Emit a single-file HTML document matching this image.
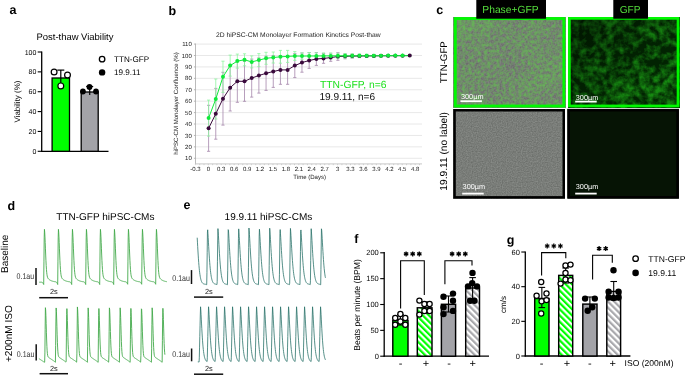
<!DOCTYPE html>
<html><head><meta charset="utf-8"><style>
html,body{margin:0;padding:0;background:#fff;width:685px;height:375px;overflow:hidden;}
svg{display:block;font-family:"Liberation Sans",sans-serif;text-rendering:geometricPrecision;-webkit-font-smoothing:antialiased;will-change:transform;}
</style></head><body>
<svg width="685" height="375" viewBox="0 0 685 375" font-family="Liberation Sans, sans-serif">
<defs>
<pattern id="hg" patternUnits="userSpaceOnUse" width="4.4" height="4.4" patternTransform="rotate(-45)">
<rect width="4.4" height="4.4" fill="#fff"/><rect width="2.2" height="4.4" fill="#00ff00"/></pattern>
<pattern id="hk" patternUnits="userSpaceOnUse" width="4.4" height="4.4" patternTransform="rotate(-45)">
<rect width="4.4" height="4.4" fill="#fff"/><rect width="2.2" height="4.4" fill="#a8a8ac"/></pattern>
<filter id="nTL" x="0" y="0" width="1" height="1" color-interpolation-filters="sRGB">
<feTurbulence type="fractalNoise" baseFrequency="0.32" numOctaves="3" seed="4" result="t1"/>
<feColorMatrix in="t1" type="matrix" values="1 0 0 0 0  1 0 0 0 0  1 0 0 0 0  0 0 0 0 1" result="a1"/>
<feTurbulence type="fractalNoise" baseFrequency="0.025" numOctaves="2" seed="11" result="t2"/>
<feColorMatrix in="t2" type="matrix" values="1 0 0 0 0  1 0 0 0 0  1 0 0 0 0  0 0 0 0 1" result="a2"/>
<feComposite in="a1" in2="a2" operator="arithmetic" k1="0" k2="0.7" k3="0.3" k4="0" result="mix"/>
<feColorMatrix in="mix" type="matrix" values="0 0 0 0 0.40  0 0 0 0 0.70  0 0 0 0 0.34  2.6 0 0 0 -0.9" result="g"/>
<feTurbulence type="fractalNoise" baseFrequency="0.6" numOctaves="1" seed="9" result="f"/>
<feColorMatrix in="f" type="matrix" values="1 0 0 0 0  1 0 0 0 0  1 0 0 0 0  0 0 0 0 0.16" result="fg"/>
<feFlood flood-color="#727572" result="base"/>
<feComposite in="fg" in2="base" operator="over" result="b2"/>
<feComposite in="g" in2="b2" operator="over" result="c"/>
<feGaussianBlur in="c" stdDeviation="0.4"/>
</filter>
<filter id="nTR" x="0" y="0" width="1" height="1" color-interpolation-filters="sRGB">
<feTurbulence type="fractalNoise" baseFrequency="0.15" numOctaves="3" seed="5" result="t1"/>
<feColorMatrix in="t1" type="matrix" values="1 0 0 0 0  1 0 0 0 0  1 0 0 0 0  0 0 0 0 1" result="a1"/>
<feTurbulence type="fractalNoise" baseFrequency="0.03" numOctaves="2" seed="7" result="t2"/>
<feColorMatrix in="t2" type="matrix" values="1 0 0 0 0  1 0 0 0 0  1 0 0 0 0  0 0 0 0 1" result="a2"/>
<feComposite in="a1" in2="a2" operator="arithmetic" k1="0" k2="0.65" k3="0.35" k4="0" result="mix"/>
<feColorMatrix in="mix" type="matrix" values="0 0 0 0 0.09  0 0 0 0 0.56  0 0 0 0 0.07  3.0 0 0 0 -1.15" result="g"/>
<feFlood flood-color="#022602" result="base"/>
<feComposite in="g" in2="base" operator="over" result="c"/>
<feGaussianBlur in="c" stdDeviation="0.4"/>
</filter>
<linearGradient id="trg" x1="0" y1="0" x2="1" y2="1">
<stop offset="0" stop-color="#000" stop-opacity="0.45"/>
<stop offset="0.55" stop-color="#000" stop-opacity="0.1"/>
<stop offset="1" stop-color="#000" stop-opacity="0"/>
</linearGradient>
<filter id="nBL" x="0" y="0" width="1" height="1" color-interpolation-filters="sRGB">
<feTurbulence type="fractalNoise" baseFrequency="0.8" numOctaves="1" seed="2" result="f"/>
<feColorMatrix in="f" type="matrix" values="1 0 0 0 0  1 0 0 0 0  1 0 0 0 0  0 0 0 0 0.2" result="fg"/>
<feFlood flood-color="#787c77" result="base"/>
<feComposite in="fg" in2="base" operator="over"/>
</filter>
</defs>
<rect x="0.00" y="0.00" width="685.00" height="375.00" fill="#fff" stroke="none" stroke-width="0" />
<text x="9.60" y="14.40" font-size="12.5" fill="#000" text-anchor="start" font-weight="bold" >a</text>
<text x="168.60" y="14.70" font-size="12.5" fill="#000" text-anchor="start" font-weight="bold" >b</text>
<text x="436.30" y="14.40" font-size="12.5" fill="#000" text-anchor="start" font-weight="bold" >c</text>
<text x="7.60" y="209.90" font-size="12.5" fill="#000" text-anchor="start" font-weight="bold" >d</text>
<text x="183.40" y="209.40" font-size="12.5" fill="#000" text-anchor="start" font-weight="bold" >e</text>
<text x="354.20" y="243.40" font-size="12.5" fill="#000" text-anchor="start" font-weight="bold" >f</text>
<text x="506.80" y="243.50" font-size="12.5" fill="#000" text-anchor="start" font-weight="bold" >g</text>
<text x="36.50" y="39.90" font-size="9.45" fill="#000" text-anchor="start" >Post-thaw Viability</text>
<line x1="37.70" y1="151.30" x2="41.70" y2="151.30" stroke="#000" stroke-width="1.1" />
<text x="36.40" y="153.80" font-size="7.0" fill="#000" text-anchor="end" >0</text>
<line x1="37.70" y1="131.44" x2="41.70" y2="131.44" stroke="#000" stroke-width="1.1" />
<text x="36.40" y="133.94" font-size="7.0" fill="#000" text-anchor="end" >20</text>
<line x1="37.70" y1="111.58" x2="41.70" y2="111.58" stroke="#000" stroke-width="1.1" />
<text x="36.40" y="114.08" font-size="7.0" fill="#000" text-anchor="end" >40</text>
<line x1="37.70" y1="91.72" x2="41.70" y2="91.72" stroke="#000" stroke-width="1.1" />
<text x="36.40" y="94.22" font-size="7.0" fill="#000" text-anchor="end" >60</text>
<line x1="37.70" y1="71.86" x2="41.70" y2="71.86" stroke="#000" stroke-width="1.1" />
<text x="36.40" y="74.36" font-size="7.0" fill="#000" text-anchor="end" >80</text>
<line x1="37.70" y1="52.00" x2="41.70" y2="52.00" stroke="#000" stroke-width="1.1" />
<text x="36.40" y="54.50" font-size="7.0" fill="#000" text-anchor="end" >100</text>
<line x1="41.70" y1="51.50" x2="41.70" y2="151.90" stroke="#000" stroke-width="1.3" />
<line x1="41.10" y1="151.30" x2="108.50" y2="151.30" stroke="#000" stroke-width="1.3" />
<rect x="52.10" y="78.00" width="17.40" height="73.30" fill="#00ff00" stroke="#000" stroke-width="1.3" />
<rect x="81.20" y="92.00" width="17.00" height="59.30" fill="#a3a3a8" stroke="#000" stroke-width="1.3" />
<line x1="60.80" y1="70.10" x2="60.80" y2="85.90" stroke="#000" stroke-width="1.2" />
<line x1="57.30" y1="70.10" x2="64.30" y2="70.10" stroke="#000" stroke-width="1.2" />
<line x1="89.70" y1="86.50" x2="89.70" y2="95.00" stroke="#000" stroke-width="1.2" />
<line x1="86.20" y1="86.50" x2="93.20" y2="86.50" stroke="#000" stroke-width="1.2" />
<circle cx="54.10" cy="72.00" r="2.9" fill="#fff" stroke="#000" stroke-width="1.2"/>
<circle cx="60.80" cy="85.90" r="2.9" fill="#fff" stroke="#000" stroke-width="1.2"/>
<circle cx="67.50" cy="75.00" r="2.9" fill="#fff" stroke="#000" stroke-width="1.2"/>
<circle cx="82.90" cy="91.50" r="2.9" fill="#000" stroke="none" stroke-width="0"/>
<circle cx="89.50" cy="87.00" r="2.9" fill="#000" stroke="none" stroke-width="0"/>
<circle cx="96.00" cy="91.50" r="2.9" fill="#000" stroke="none" stroke-width="0"/>
<circle cx="102.10" cy="59.20" r="2.75" fill="#fff" stroke="#000" stroke-width="1.3"/>
<text x="114.00" y="62.10" font-size="8.1" fill="#000" text-anchor="start" >TTN-GFP</text>
<circle cx="102.10" cy="72.40" r="3.2" fill="#000" stroke="none" stroke-width="0"/>
<text x="114.00" y="75.30" font-size="8.1" fill="#000" text-anchor="start" >19.9.11</text>
<text transform="translate(20.20,101.50) rotate(-90)" x="0" y="0" font-size="8" fill="#000" text-anchor="middle" >Viability (%)</text>
<text x="216.00" y="36.80" font-size="6.73" fill="#222" text-anchor="start" >2D hiPSC-CM Monolayer Formation Kinetics Post-thaw</text>
<line x1="195.50" y1="158.28" x2="422.00" y2="158.28" stroke="#e2e2e2" stroke-width="0.8" />
<line x1="193.90" y1="158.28" x2="195.50" y2="158.28" stroke="#999" stroke-width="0.7" />
<text x="191.80" y="160.38" font-size="6.0" fill="#222" text-anchor="end" >10</text>
<line x1="195.50" y1="146.86" x2="422.00" y2="146.86" stroke="#e2e2e2" stroke-width="0.8" />
<line x1="193.90" y1="146.86" x2="195.50" y2="146.86" stroke="#999" stroke-width="0.7" />
<text x="191.80" y="148.96" font-size="6.0" fill="#222" text-anchor="end" >20</text>
<line x1="195.50" y1="135.44" x2="422.00" y2="135.44" stroke="#e2e2e2" stroke-width="0.8" />
<line x1="193.90" y1="135.44" x2="195.50" y2="135.44" stroke="#999" stroke-width="0.7" />
<text x="191.80" y="137.54" font-size="6.0" fill="#222" text-anchor="end" >30</text>
<line x1="195.50" y1="124.02" x2="422.00" y2="124.02" stroke="#e2e2e2" stroke-width="0.8" />
<line x1="193.90" y1="124.02" x2="195.50" y2="124.02" stroke="#999" stroke-width="0.7" />
<text x="191.80" y="126.12" font-size="6.0" fill="#222" text-anchor="end" >40</text>
<line x1="195.50" y1="112.60" x2="422.00" y2="112.60" stroke="#e2e2e2" stroke-width="0.8" />
<line x1="193.90" y1="112.60" x2="195.50" y2="112.60" stroke="#999" stroke-width="0.7" />
<text x="191.80" y="114.70" font-size="6.0" fill="#222" text-anchor="end" >50</text>
<line x1="195.50" y1="101.18" x2="422.00" y2="101.18" stroke="#e2e2e2" stroke-width="0.8" />
<line x1="193.90" y1="101.18" x2="195.50" y2="101.18" stroke="#999" stroke-width="0.7" />
<text x="191.80" y="103.28" font-size="6.0" fill="#222" text-anchor="end" >60</text>
<line x1="195.50" y1="89.76" x2="422.00" y2="89.76" stroke="#e2e2e2" stroke-width="0.8" />
<line x1="193.90" y1="89.76" x2="195.50" y2="89.76" stroke="#999" stroke-width="0.7" />
<text x="191.80" y="91.86" font-size="6.0" fill="#222" text-anchor="end" >70</text>
<line x1="195.50" y1="78.34" x2="422.00" y2="78.34" stroke="#e2e2e2" stroke-width="0.8" />
<line x1="193.90" y1="78.34" x2="195.50" y2="78.34" stroke="#999" stroke-width="0.7" />
<text x="191.80" y="80.44" font-size="6.0" fill="#222" text-anchor="end" >80</text>
<line x1="195.50" y1="66.92" x2="422.00" y2="66.92" stroke="#e2e2e2" stroke-width="0.8" />
<line x1="193.90" y1="66.92" x2="195.50" y2="66.92" stroke="#999" stroke-width="0.7" />
<text x="191.80" y="69.02" font-size="6.0" fill="#222" text-anchor="end" >90</text>
<line x1="195.50" y1="55.50" x2="422.00" y2="55.50" stroke="#e2e2e2" stroke-width="0.8" />
<line x1="193.90" y1="55.50" x2="195.50" y2="55.50" stroke="#999" stroke-width="0.7" />
<text x="191.80" y="57.60" font-size="6.0" fill="#222" text-anchor="end" >100</text>
<line x1="195.50" y1="44.08" x2="422.00" y2="44.08" stroke="#e2e2e2" stroke-width="0.8" />
<line x1="193.90" y1="44.08" x2="195.50" y2="44.08" stroke="#999" stroke-width="0.7" />
<text x="191.80" y="46.18" font-size="6.0" fill="#222" text-anchor="end" >110</text>
<line x1="195.50" y1="43.58" x2="195.50" y2="163.90" stroke="#aaa" stroke-width="0.8" />
<line x1="195.50" y1="163.90" x2="422.00" y2="163.90" stroke="#bbb" stroke-width="0.8" />
<line x1="195.37" y1="163.90" x2="195.37" y2="165.20" stroke="#bbb" stroke-width="0.6" />
<line x1="199.68" y1="163.90" x2="199.68" y2="165.20" stroke="#bbb" stroke-width="0.6" />
<line x1="203.99" y1="163.90" x2="203.99" y2="165.20" stroke="#bbb" stroke-width="0.6" />
<line x1="208.30" y1="163.90" x2="208.30" y2="165.20" stroke="#bbb" stroke-width="0.6" />
<line x1="212.61" y1="163.90" x2="212.61" y2="165.20" stroke="#bbb" stroke-width="0.6" />
<line x1="216.92" y1="163.90" x2="216.92" y2="165.20" stroke="#bbb" stroke-width="0.6" />
<line x1="221.23" y1="163.90" x2="221.23" y2="165.20" stroke="#bbb" stroke-width="0.6" />
<line x1="225.54" y1="163.90" x2="225.54" y2="165.20" stroke="#bbb" stroke-width="0.6" />
<line x1="229.85" y1="163.90" x2="229.85" y2="165.20" stroke="#bbb" stroke-width="0.6" />
<line x1="234.16" y1="163.90" x2="234.16" y2="165.20" stroke="#bbb" stroke-width="0.6" />
<line x1="238.47" y1="163.90" x2="238.47" y2="165.20" stroke="#bbb" stroke-width="0.6" />
<line x1="242.78" y1="163.90" x2="242.78" y2="165.20" stroke="#bbb" stroke-width="0.6" />
<line x1="247.09" y1="163.90" x2="247.09" y2="165.20" stroke="#bbb" stroke-width="0.6" />
<line x1="251.40" y1="163.90" x2="251.40" y2="165.20" stroke="#bbb" stroke-width="0.6" />
<line x1="255.71" y1="163.90" x2="255.71" y2="165.20" stroke="#bbb" stroke-width="0.6" />
<line x1="260.02" y1="163.90" x2="260.02" y2="165.20" stroke="#bbb" stroke-width="0.6" />
<line x1="264.33" y1="163.90" x2="264.33" y2="165.20" stroke="#bbb" stroke-width="0.6" />
<line x1="268.64" y1="163.90" x2="268.64" y2="165.20" stroke="#bbb" stroke-width="0.6" />
<line x1="272.95" y1="163.90" x2="272.95" y2="165.20" stroke="#bbb" stroke-width="0.6" />
<line x1="277.26" y1="163.90" x2="277.26" y2="165.20" stroke="#bbb" stroke-width="0.6" />
<line x1="281.57" y1="163.90" x2="281.57" y2="165.20" stroke="#bbb" stroke-width="0.6" />
<line x1="285.88" y1="163.90" x2="285.88" y2="165.20" stroke="#bbb" stroke-width="0.6" />
<line x1="290.19" y1="163.90" x2="290.19" y2="165.20" stroke="#bbb" stroke-width="0.6" />
<line x1="294.50" y1="163.90" x2="294.50" y2="165.20" stroke="#bbb" stroke-width="0.6" />
<line x1="298.81" y1="163.90" x2="298.81" y2="165.20" stroke="#bbb" stroke-width="0.6" />
<line x1="303.12" y1="163.90" x2="303.12" y2="165.20" stroke="#bbb" stroke-width="0.6" />
<line x1="307.43" y1="163.90" x2="307.43" y2="165.20" stroke="#bbb" stroke-width="0.6" />
<line x1="311.74" y1="163.90" x2="311.74" y2="165.20" stroke="#bbb" stroke-width="0.6" />
<line x1="316.05" y1="163.90" x2="316.05" y2="165.20" stroke="#bbb" stroke-width="0.6" />
<line x1="320.36" y1="163.90" x2="320.36" y2="165.20" stroke="#bbb" stroke-width="0.6" />
<line x1="324.67" y1="163.90" x2="324.67" y2="165.20" stroke="#bbb" stroke-width="0.6" />
<line x1="328.98" y1="163.90" x2="328.98" y2="165.20" stroke="#bbb" stroke-width="0.6" />
<line x1="333.29" y1="163.90" x2="333.29" y2="165.20" stroke="#bbb" stroke-width="0.6" />
<line x1="337.60" y1="163.90" x2="337.60" y2="165.20" stroke="#bbb" stroke-width="0.6" />
<line x1="341.91" y1="163.90" x2="341.91" y2="165.20" stroke="#bbb" stroke-width="0.6" />
<line x1="346.22" y1="163.90" x2="346.22" y2="165.20" stroke="#bbb" stroke-width="0.6" />
<line x1="350.53" y1="163.90" x2="350.53" y2="165.20" stroke="#bbb" stroke-width="0.6" />
<line x1="354.84" y1="163.90" x2="354.84" y2="165.20" stroke="#bbb" stroke-width="0.6" />
<line x1="359.15" y1="163.90" x2="359.15" y2="165.20" stroke="#bbb" stroke-width="0.6" />
<line x1="363.46" y1="163.90" x2="363.46" y2="165.20" stroke="#bbb" stroke-width="0.6" />
<line x1="367.77" y1="163.90" x2="367.77" y2="165.20" stroke="#bbb" stroke-width="0.6" />
<line x1="372.08" y1="163.90" x2="372.08" y2="165.20" stroke="#bbb" stroke-width="0.6" />
<line x1="376.39" y1="163.90" x2="376.39" y2="165.20" stroke="#bbb" stroke-width="0.6" />
<line x1="380.70" y1="163.90" x2="380.70" y2="165.20" stroke="#bbb" stroke-width="0.6" />
<line x1="385.01" y1="163.90" x2="385.01" y2="165.20" stroke="#bbb" stroke-width="0.6" />
<line x1="389.32" y1="163.90" x2="389.32" y2="165.20" stroke="#bbb" stroke-width="0.6" />
<line x1="393.63" y1="163.90" x2="393.63" y2="165.20" stroke="#bbb" stroke-width="0.6" />
<line x1="397.94" y1="163.90" x2="397.94" y2="165.20" stroke="#bbb" stroke-width="0.6" />
<line x1="402.25" y1="163.90" x2="402.25" y2="165.20" stroke="#bbb" stroke-width="0.6" />
<line x1="406.56" y1="163.90" x2="406.56" y2="165.20" stroke="#bbb" stroke-width="0.6" />
<line x1="410.87" y1="163.90" x2="410.87" y2="165.20" stroke="#bbb" stroke-width="0.6" />
<line x1="415.18" y1="163.90" x2="415.18" y2="165.20" stroke="#bbb" stroke-width="0.6" />
<line x1="419.49" y1="163.90" x2="419.49" y2="165.20" stroke="#bbb" stroke-width="0.6" />
<text x="195.37" y="171.40" font-size="6.0" fill="#222" text-anchor="middle" >-0.3</text>
<text x="208.30" y="171.40" font-size="6.0" fill="#222" text-anchor="middle" >0</text>
<text x="221.23" y="171.40" font-size="6.0" fill="#222" text-anchor="middle" >0.3</text>
<text x="234.16" y="171.40" font-size="6.0" fill="#222" text-anchor="middle" >0.6</text>
<text x="247.09" y="171.40" font-size="6.0" fill="#222" text-anchor="middle" >0.9</text>
<text x="260.02" y="171.40" font-size="6.0" fill="#222" text-anchor="middle" >1.2</text>
<text x="272.95" y="171.40" font-size="6.0" fill="#222" text-anchor="middle" >1.5</text>
<text x="285.88" y="171.40" font-size="6.0" fill="#222" text-anchor="middle" >1.8</text>
<text x="298.81" y="171.40" font-size="6.0" fill="#222" text-anchor="middle" >2.1</text>
<text x="311.74" y="171.40" font-size="6.0" fill="#222" text-anchor="middle" >2.4</text>
<text x="324.67" y="171.40" font-size="6.0" fill="#222" text-anchor="middle" >2.7</text>
<text x="337.60" y="171.40" font-size="6.0" fill="#222" text-anchor="middle" >3</text>
<text x="350.53" y="171.40" font-size="6.0" fill="#222" text-anchor="middle" >3.3</text>
<text x="363.46" y="171.40" font-size="6.0" fill="#222" text-anchor="middle" >3.6</text>
<text x="376.39" y="171.40" font-size="6.0" fill="#222" text-anchor="middle" >3.9</text>
<text x="389.32" y="171.40" font-size="6.0" fill="#222" text-anchor="middle" >4.2</text>
<text x="402.25" y="171.40" font-size="6.0" fill="#222" text-anchor="middle" >4.5</text>
<text x="415.18" y="171.40" font-size="6.0" fill="#222" text-anchor="middle" >4.8</text>
<text x="309.70" y="179.30" font-size="6.05" fill="#222" text-anchor="middle" >Time (Days)</text>
<text transform="translate(178.20,103.50) rotate(-90)" x="0" y="0" font-size="6.1" fill="#222" text-anchor="middle" >hiPSC-CM Monolayer Confluence (%)</text>
<line x1="208.60" y1="105.30" x2="208.60" y2="151.30" stroke="#a585ab" stroke-width="0.8" />
<line x1="207.00" y1="105.30" x2="210.20" y2="105.30" stroke="#a585ab" stroke-width="0.8" />
<line x1="207.00" y1="151.30" x2="210.20" y2="151.30" stroke="#a585ab" stroke-width="0.8" />
<line x1="215.78" y1="88.40" x2="215.78" y2="139.20" stroke="#a585ab" stroke-width="0.8" />
<line x1="214.18" y1="88.40" x2="217.38" y2="88.40" stroke="#a585ab" stroke-width="0.8" />
<line x1="214.18" y1="139.20" x2="217.38" y2="139.20" stroke="#a585ab" stroke-width="0.8" />
<line x1="222.97" y1="72.30" x2="222.97" y2="125.10" stroke="#a585ab" stroke-width="0.8" />
<line x1="221.37" y1="72.30" x2="224.57" y2="72.30" stroke="#a585ab" stroke-width="0.8" />
<line x1="221.37" y1="125.10" x2="224.57" y2="125.10" stroke="#a585ab" stroke-width="0.8" />
<line x1="230.15" y1="64.40" x2="230.15" y2="111.00" stroke="#a585ab" stroke-width="0.8" />
<line x1="228.55" y1="64.40" x2="231.75" y2="64.40" stroke="#a585ab" stroke-width="0.8" />
<line x1="228.55" y1="111.00" x2="231.75" y2="111.00" stroke="#a585ab" stroke-width="0.8" />
<line x1="237.33" y1="60.30" x2="237.33" y2="102.30" stroke="#a585ab" stroke-width="0.8" />
<line x1="235.73" y1="60.30" x2="238.93" y2="60.30" stroke="#a585ab" stroke-width="0.8" />
<line x1="235.73" y1="102.30" x2="238.93" y2="102.30" stroke="#a585ab" stroke-width="0.8" />
<line x1="244.51" y1="61.30" x2="244.51" y2="101.30" stroke="#a585ab" stroke-width="0.8" />
<line x1="242.91" y1="61.30" x2="246.11" y2="61.30" stroke="#a585ab" stroke-width="0.8" />
<line x1="242.91" y1="101.30" x2="246.11" y2="101.30" stroke="#a585ab" stroke-width="0.8" />
<line x1="251.70" y1="59.10" x2="251.70" y2="97.10" stroke="#a585ab" stroke-width="0.8" />
<line x1="250.10" y1="59.10" x2="253.30" y2="59.10" stroke="#a585ab" stroke-width="0.8" />
<line x1="250.10" y1="97.10" x2="253.30" y2="97.10" stroke="#a585ab" stroke-width="0.8" />
<line x1="258.88" y1="57.90" x2="258.88" y2="93.10" stroke="#a585ab" stroke-width="0.8" />
<line x1="257.28" y1="57.90" x2="260.48" y2="57.90" stroke="#a585ab" stroke-width="0.8" />
<line x1="257.28" y1="93.10" x2="260.48" y2="93.10" stroke="#a585ab" stroke-width="0.8" />
<line x1="266.06" y1="56.20" x2="266.06" y2="90.40" stroke="#a585ab" stroke-width="0.8" />
<line x1="264.46" y1="56.20" x2="267.66" y2="56.20" stroke="#a585ab" stroke-width="0.8" />
<line x1="264.46" y1="90.40" x2="267.66" y2="90.40" stroke="#a585ab" stroke-width="0.8" />
<line x1="273.25" y1="55.60" x2="273.25" y2="87.40" stroke="#a585ab" stroke-width="0.8" />
<line x1="271.65" y1="55.60" x2="274.85" y2="55.60" stroke="#a585ab" stroke-width="0.8" />
<line x1="271.65" y1="87.40" x2="274.85" y2="87.40" stroke="#a585ab" stroke-width="0.8" />
<line x1="280.43" y1="55.50" x2="280.43" y2="84.30" stroke="#a585ab" stroke-width="0.8" />
<line x1="278.83" y1="55.50" x2="282.03" y2="55.50" stroke="#a585ab" stroke-width="0.8" />
<line x1="278.83" y1="84.30" x2="282.03" y2="84.30" stroke="#a585ab" stroke-width="0.8" />
<line x1="287.61" y1="55.50" x2="287.61" y2="84.30" stroke="#a585ab" stroke-width="0.8" />
<line x1="286.01" y1="55.50" x2="289.21" y2="55.50" stroke="#a585ab" stroke-width="0.8" />
<line x1="286.01" y1="84.30" x2="289.21" y2="84.30" stroke="#a585ab" stroke-width="0.8" />
<line x1="294.80" y1="53.60" x2="294.80" y2="77.60" stroke="#a585ab" stroke-width="0.8" />
<line x1="293.20" y1="53.60" x2="296.40" y2="53.60" stroke="#a585ab" stroke-width="0.8" />
<line x1="293.20" y1="77.60" x2="296.40" y2="77.60" stroke="#a585ab" stroke-width="0.8" />
<line x1="301.98" y1="53.00" x2="301.98" y2="72.20" stroke="#a585ab" stroke-width="0.8" />
<line x1="300.38" y1="53.00" x2="303.58" y2="53.00" stroke="#a585ab" stroke-width="0.8" />
<line x1="300.38" y1="72.20" x2="303.58" y2="72.20" stroke="#a585ab" stroke-width="0.8" />
<line x1="309.16" y1="52.60" x2="309.16" y2="68.40" stroke="#a585ab" stroke-width="0.8" />
<line x1="307.56" y1="52.60" x2="310.76" y2="52.60" stroke="#a585ab" stroke-width="0.8" />
<line x1="307.56" y1="68.40" x2="310.76" y2="68.40" stroke="#a585ab" stroke-width="0.8" />
<line x1="316.35" y1="52.60" x2="316.35" y2="65.40" stroke="#a585ab" stroke-width="0.8" />
<line x1="314.75" y1="52.60" x2="317.95" y2="52.60" stroke="#a585ab" stroke-width="0.8" />
<line x1="314.75" y1="65.40" x2="317.95" y2="65.40" stroke="#a585ab" stroke-width="0.8" />
<line x1="323.53" y1="53.50" x2="323.53" y2="63.30" stroke="#a585ab" stroke-width="0.8" />
<line x1="321.93" y1="53.50" x2="325.13" y2="53.50" stroke="#a585ab" stroke-width="0.8" />
<line x1="321.93" y1="63.30" x2="325.13" y2="63.30" stroke="#a585ab" stroke-width="0.8" />
<line x1="330.71" y1="53.90" x2="330.71" y2="61.30" stroke="#a585ab" stroke-width="0.8" />
<line x1="329.11" y1="53.90" x2="332.31" y2="53.90" stroke="#a585ab" stroke-width="0.8" />
<line x1="329.11" y1="61.30" x2="332.31" y2="61.30" stroke="#a585ab" stroke-width="0.8" />
<line x1="337.89" y1="52.70" x2="337.89" y2="60.30" stroke="#a585ab" stroke-width="0.8" />
<line x1="336.29" y1="52.70" x2="339.49" y2="52.70" stroke="#a585ab" stroke-width="0.8" />
<line x1="336.29" y1="60.30" x2="339.49" y2="60.30" stroke="#a585ab" stroke-width="0.8" />
<line x1="345.08" y1="53.80" x2="345.08" y2="58.80" stroke="#a585ab" stroke-width="0.8" />
<line x1="343.48" y1="53.80" x2="346.68" y2="53.80" stroke="#a585ab" stroke-width="0.8" />
<line x1="343.48" y1="58.80" x2="346.68" y2="58.80" stroke="#a585ab" stroke-width="0.8" />
<line x1="352.26" y1="54.10" x2="352.26" y2="58.10" stroke="#a585ab" stroke-width="0.8" />
<line x1="350.66" y1="54.10" x2="353.86" y2="54.10" stroke="#a585ab" stroke-width="0.8" />
<line x1="350.66" y1="58.10" x2="353.86" y2="58.10" stroke="#a585ab" stroke-width="0.8" />
<line x1="359.44" y1="54.40" x2="359.44" y2="57.60" stroke="#a585ab" stroke-width="0.8" />
<line x1="357.84" y1="54.40" x2="361.04" y2="54.40" stroke="#a585ab" stroke-width="0.8" />
<line x1="357.84" y1="57.60" x2="361.04" y2="57.60" stroke="#a585ab" stroke-width="0.8" />
<line x1="366.63" y1="54.50" x2="366.63" y2="57.30" stroke="#a585ab" stroke-width="0.8" />
<line x1="365.03" y1="54.50" x2="368.23" y2="54.50" stroke="#a585ab" stroke-width="0.8" />
<line x1="365.03" y1="57.30" x2="368.23" y2="57.30" stroke="#a585ab" stroke-width="0.8" />
<line x1="373.81" y1="54.70" x2="373.81" y2="57.10" stroke="#a585ab" stroke-width="0.8" />
<line x1="372.21" y1="54.70" x2="375.41" y2="54.70" stroke="#a585ab" stroke-width="0.8" />
<line x1="372.21" y1="57.10" x2="375.41" y2="57.10" stroke="#a585ab" stroke-width="0.8" />
<line x1="380.99" y1="54.80" x2="380.99" y2="56.80" stroke="#a585ab" stroke-width="0.8" />
<line x1="379.39" y1="54.80" x2="382.59" y2="54.80" stroke="#a585ab" stroke-width="0.8" />
<line x1="379.39" y1="56.80" x2="382.59" y2="56.80" stroke="#a585ab" stroke-width="0.8" />
<line x1="388.17" y1="54.80" x2="388.17" y2="56.80" stroke="#a585ab" stroke-width="0.8" />
<line x1="386.57" y1="54.80" x2="389.77" y2="54.80" stroke="#a585ab" stroke-width="0.8" />
<line x1="386.57" y1="56.80" x2="389.77" y2="56.80" stroke="#a585ab" stroke-width="0.8" />
<line x1="395.36" y1="54.80" x2="395.36" y2="56.60" stroke="#a585ab" stroke-width="0.8" />
<line x1="393.76" y1="54.80" x2="396.96" y2="54.80" stroke="#a585ab" stroke-width="0.8" />
<line x1="393.76" y1="56.60" x2="396.96" y2="56.60" stroke="#a585ab" stroke-width="0.8" />
<line x1="402.54" y1="54.90" x2="402.54" y2="56.50" stroke="#a585ab" stroke-width="0.8" />
<line x1="400.94" y1="54.90" x2="404.14" y2="54.90" stroke="#a585ab" stroke-width="0.8" />
<line x1="400.94" y1="56.50" x2="404.14" y2="56.50" stroke="#a585ab" stroke-width="0.8" />
<line x1="409.72" y1="54.80" x2="409.72" y2="56.40" stroke="#a585ab" stroke-width="0.8" />
<line x1="408.12" y1="54.80" x2="411.32" y2="54.80" stroke="#a585ab" stroke-width="0.8" />
<line x1="408.12" y1="56.40" x2="411.32" y2="56.40" stroke="#a585ab" stroke-width="0.8" />
<line x1="208.60" y1="100.10" x2="208.60" y2="136.10" stroke="#8ef5a0" stroke-width="0.8" />
<line x1="207.00" y1="100.10" x2="210.20" y2="100.10" stroke="#8ef5a0" stroke-width="0.8" />
<line x1="207.00" y1="136.10" x2="210.20" y2="136.10" stroke="#8ef5a0" stroke-width="0.8" />
<line x1="215.78" y1="79.00" x2="215.78" y2="119.00" stroke="#8ef5a0" stroke-width="0.8" />
<line x1="214.18" y1="79.00" x2="217.38" y2="79.00" stroke="#8ef5a0" stroke-width="0.8" />
<line x1="214.18" y1="119.00" x2="217.38" y2="119.00" stroke="#8ef5a0" stroke-width="0.8" />
<line x1="222.97" y1="61.20" x2="222.97" y2="92.40" stroke="#8ef5a0" stroke-width="0.8" />
<line x1="221.37" y1="61.20" x2="224.57" y2="61.20" stroke="#8ef5a0" stroke-width="0.8" />
<line x1="221.37" y1="92.40" x2="224.57" y2="92.40" stroke="#8ef5a0" stroke-width="0.8" />
<line x1="230.15" y1="55.10" x2="230.15" y2="76.10" stroke="#8ef5a0" stroke-width="0.8" />
<line x1="228.55" y1="55.10" x2="231.75" y2="55.10" stroke="#8ef5a0" stroke-width="0.8" />
<line x1="228.55" y1="76.10" x2="231.75" y2="76.10" stroke="#8ef5a0" stroke-width="0.8" />
<line x1="237.33" y1="54.10" x2="237.33" y2="68.10" stroke="#8ef5a0" stroke-width="0.8" />
<line x1="235.73" y1="54.10" x2="238.93" y2="54.10" stroke="#8ef5a0" stroke-width="0.8" />
<line x1="235.73" y1="68.10" x2="238.93" y2="68.10" stroke="#8ef5a0" stroke-width="0.8" />
<line x1="244.51" y1="53.80" x2="244.51" y2="65.80" stroke="#8ef5a0" stroke-width="0.8" />
<line x1="242.91" y1="53.80" x2="246.11" y2="53.80" stroke="#8ef5a0" stroke-width="0.8" />
<line x1="242.91" y1="65.80" x2="246.11" y2="65.80" stroke="#8ef5a0" stroke-width="0.8" />
<line x1="251.70" y1="55.90" x2="251.70" y2="67.90" stroke="#8ef5a0" stroke-width="0.8" />
<line x1="250.10" y1="55.90" x2="253.30" y2="55.90" stroke="#8ef5a0" stroke-width="0.8" />
<line x1="250.10" y1="67.90" x2="253.30" y2="67.90" stroke="#8ef5a0" stroke-width="0.8" />
<line x1="258.88" y1="53.60" x2="258.88" y2="66.60" stroke="#8ef5a0" stroke-width="0.8" />
<line x1="257.28" y1="53.60" x2="260.48" y2="53.60" stroke="#8ef5a0" stroke-width="0.8" />
<line x1="257.28" y1="66.60" x2="260.48" y2="66.60" stroke="#8ef5a0" stroke-width="0.8" />
<line x1="266.06" y1="52.30" x2="266.06" y2="64.30" stroke="#8ef5a0" stroke-width="0.8" />
<line x1="264.46" y1="52.30" x2="267.66" y2="52.30" stroke="#8ef5a0" stroke-width="0.8" />
<line x1="264.46" y1="64.30" x2="267.66" y2="64.30" stroke="#8ef5a0" stroke-width="0.8" />
<line x1="273.25" y1="52.00" x2="273.25" y2="63.00" stroke="#8ef5a0" stroke-width="0.8" />
<line x1="271.65" y1="52.00" x2="274.85" y2="52.00" stroke="#8ef5a0" stroke-width="0.8" />
<line x1="271.65" y1="63.00" x2="274.85" y2="63.00" stroke="#8ef5a0" stroke-width="0.8" />
<line x1="280.43" y1="50.40" x2="280.43" y2="63.20" stroke="#8ef5a0" stroke-width="0.8" />
<line x1="278.83" y1="50.40" x2="282.03" y2="50.40" stroke="#8ef5a0" stroke-width="0.8" />
<line x1="278.83" y1="63.20" x2="282.03" y2="63.20" stroke="#8ef5a0" stroke-width="0.8" />
<line x1="287.61" y1="50.40" x2="287.61" y2="62.40" stroke="#8ef5a0" stroke-width="0.8" />
<line x1="286.01" y1="50.40" x2="289.21" y2="50.40" stroke="#8ef5a0" stroke-width="0.8" />
<line x1="286.01" y1="62.40" x2="289.21" y2="62.40" stroke="#8ef5a0" stroke-width="0.8" />
<line x1="294.80" y1="51.60" x2="294.80" y2="60.40" stroke="#8ef5a0" stroke-width="0.8" />
<line x1="293.20" y1="51.60" x2="296.40" y2="51.60" stroke="#8ef5a0" stroke-width="0.8" />
<line x1="293.20" y1="60.40" x2="296.40" y2="60.40" stroke="#8ef5a0" stroke-width="0.8" />
<line x1="301.98" y1="52.90" x2="301.98" y2="59.30" stroke="#8ef5a0" stroke-width="0.8" />
<line x1="300.38" y1="52.90" x2="303.58" y2="52.90" stroke="#8ef5a0" stroke-width="0.8" />
<line x1="300.38" y1="59.30" x2="303.58" y2="59.30" stroke="#8ef5a0" stroke-width="0.8" />
<line x1="309.16" y1="52.50" x2="309.16" y2="59.50" stroke="#8ef5a0" stroke-width="0.8" />
<line x1="307.56" y1="52.50" x2="310.76" y2="52.50" stroke="#8ef5a0" stroke-width="0.8" />
<line x1="307.56" y1="59.50" x2="310.76" y2="59.50" stroke="#8ef5a0" stroke-width="0.8" />
<line x1="316.35" y1="52.80" x2="316.35" y2="59.20" stroke="#8ef5a0" stroke-width="0.8" />
<line x1="314.75" y1="52.80" x2="317.95" y2="52.80" stroke="#8ef5a0" stroke-width="0.8" />
<line x1="314.75" y1="59.20" x2="317.95" y2="59.20" stroke="#8ef5a0" stroke-width="0.8" />
<line x1="323.53" y1="52.90" x2="323.53" y2="58.90" stroke="#8ef5a0" stroke-width="0.8" />
<line x1="321.93" y1="52.90" x2="325.13" y2="52.90" stroke="#8ef5a0" stroke-width="0.8" />
<line x1="321.93" y1="58.90" x2="325.13" y2="58.90" stroke="#8ef5a0" stroke-width="0.8" />
<line x1="330.71" y1="52.90" x2="330.71" y2="58.90" stroke="#8ef5a0" stroke-width="0.8" />
<line x1="329.11" y1="52.90" x2="332.31" y2="52.90" stroke="#8ef5a0" stroke-width="0.8" />
<line x1="329.11" y1="58.90" x2="332.31" y2="58.90" stroke="#8ef5a0" stroke-width="0.8" />
<line x1="337.89" y1="53.20" x2="337.89" y2="58.40" stroke="#8ef5a0" stroke-width="0.8" />
<line x1="336.29" y1="53.20" x2="339.49" y2="53.20" stroke="#8ef5a0" stroke-width="0.8" />
<line x1="336.29" y1="58.40" x2="339.49" y2="58.40" stroke="#8ef5a0" stroke-width="0.8" />
<line x1="345.08" y1="53.60" x2="345.08" y2="58.00" stroke="#8ef5a0" stroke-width="0.8" />
<line x1="343.48" y1="53.60" x2="346.68" y2="53.60" stroke="#8ef5a0" stroke-width="0.8" />
<line x1="343.48" y1="58.00" x2="346.68" y2="58.00" stroke="#8ef5a0" stroke-width="0.8" />
<line x1="352.26" y1="53.80" x2="352.26" y2="57.80" stroke="#8ef5a0" stroke-width="0.8" />
<line x1="350.66" y1="53.80" x2="353.86" y2="53.80" stroke="#8ef5a0" stroke-width="0.8" />
<line x1="350.66" y1="57.80" x2="353.86" y2="57.80" stroke="#8ef5a0" stroke-width="0.8" />
<line x1="359.44" y1="53.90" x2="359.44" y2="57.50" stroke="#8ef5a0" stroke-width="0.8" />
<line x1="357.84" y1="53.90" x2="361.04" y2="53.90" stroke="#8ef5a0" stroke-width="0.8" />
<line x1="357.84" y1="57.50" x2="361.04" y2="57.50" stroke="#8ef5a0" stroke-width="0.8" />
<line x1="366.63" y1="54.10" x2="366.63" y2="57.30" stroke="#8ef5a0" stroke-width="0.8" />
<line x1="365.03" y1="54.10" x2="368.23" y2="54.10" stroke="#8ef5a0" stroke-width="0.8" />
<line x1="365.03" y1="57.30" x2="368.23" y2="57.30" stroke="#8ef5a0" stroke-width="0.8" />
<line x1="373.81" y1="54.30" x2="373.81" y2="57.10" stroke="#8ef5a0" stroke-width="0.8" />
<line x1="372.21" y1="54.30" x2="375.41" y2="54.30" stroke="#8ef5a0" stroke-width="0.8" />
<line x1="372.21" y1="57.10" x2="375.41" y2="57.10" stroke="#8ef5a0" stroke-width="0.8" />
<line x1="380.99" y1="54.50" x2="380.99" y2="56.90" stroke="#8ef5a0" stroke-width="0.8" />
<line x1="379.39" y1="54.50" x2="382.59" y2="54.50" stroke="#8ef5a0" stroke-width="0.8" />
<line x1="379.39" y1="56.90" x2="382.59" y2="56.90" stroke="#8ef5a0" stroke-width="0.8" />
<line x1="388.17" y1="54.50" x2="388.17" y2="56.70" stroke="#8ef5a0" stroke-width="0.8" />
<line x1="386.57" y1="54.50" x2="389.77" y2="54.50" stroke="#8ef5a0" stroke-width="0.8" />
<line x1="386.57" y1="56.70" x2="389.77" y2="56.70" stroke="#8ef5a0" stroke-width="0.8" />
<line x1="395.36" y1="54.60" x2="395.36" y2="56.60" stroke="#8ef5a0" stroke-width="0.8" />
<line x1="393.76" y1="54.60" x2="396.96" y2="54.60" stroke="#8ef5a0" stroke-width="0.8" />
<line x1="393.76" y1="56.60" x2="396.96" y2="56.60" stroke="#8ef5a0" stroke-width="0.8" />
<line x1="402.54" y1="54.60" x2="402.54" y2="56.60" stroke="#8ef5a0" stroke-width="0.8" />
<line x1="400.94" y1="54.60" x2="404.14" y2="54.60" stroke="#8ef5a0" stroke-width="0.8" />
<line x1="400.94" y1="56.60" x2="404.14" y2="56.60" stroke="#8ef5a0" stroke-width="0.8" />
<line x1="409.72" y1="54.60" x2="409.72" y2="56.60" stroke="#8ef5a0" stroke-width="0.8" />
<line x1="408.12" y1="54.60" x2="411.32" y2="54.60" stroke="#8ef5a0" stroke-width="0.8" />
<line x1="408.12" y1="56.60" x2="411.32" y2="56.60" stroke="#8ef5a0" stroke-width="0.8" />
<polyline fill="none" stroke="#3a0a3c" stroke-width="1" points="208.60,128.30 215.78,113.80 222.97,98.70 230.15,87.70 237.33,81.30 244.51,81.30 251.70,78.10 258.88,75.50 266.06,73.30 273.25,71.50 280.43,69.90 287.61,69.90 294.80,65.60 301.98,62.60 309.16,60.50 316.35,59.00 323.53,58.40 330.71,57.60 337.89,56.50 345.08,56.30 352.26,56.10 359.44,56.00 366.63,55.90 373.81,55.90 380.99,55.80 388.17,55.80 395.36,55.70 402.54,55.70 409.72,55.60"/>
<polyline fill="none" stroke="#10ea3a" stroke-width="1" points="208.60,118.10 215.78,99.00 222.97,76.80 230.15,65.60 237.33,61.10 244.51,59.80 251.70,61.90 258.88,60.10 266.06,58.30 273.25,57.50 280.43,56.80 287.61,56.40 294.80,56.00 301.98,56.10 309.16,56.00 316.35,56.00 323.53,55.90 330.71,55.90 337.89,55.80 345.08,55.80 352.26,55.80 359.44,55.70 366.63,55.70 373.81,55.70 380.99,55.70 388.17,55.60 395.36,55.60 402.54,55.60 409.72,55.60"/>
<circle cx="208.60" cy="128.30" r="2.0" fill="#3a0a3c" stroke="none" stroke-width="0"/>
<circle cx="215.78" cy="113.80" r="2.0" fill="#3a0a3c" stroke="none" stroke-width="0"/>
<circle cx="222.97" cy="98.70" r="2.0" fill="#3a0a3c" stroke="none" stroke-width="0"/>
<circle cx="230.15" cy="87.70" r="2.0" fill="#3a0a3c" stroke="none" stroke-width="0"/>
<circle cx="237.33" cy="81.30" r="2.0" fill="#3a0a3c" stroke="none" stroke-width="0"/>
<circle cx="244.51" cy="81.30" r="2.0" fill="#3a0a3c" stroke="none" stroke-width="0"/>
<circle cx="251.70" cy="78.10" r="2.0" fill="#3a0a3c" stroke="none" stroke-width="0"/>
<circle cx="258.88" cy="75.50" r="2.0" fill="#3a0a3c" stroke="none" stroke-width="0"/>
<circle cx="266.06" cy="73.30" r="2.0" fill="#3a0a3c" stroke="none" stroke-width="0"/>
<circle cx="273.25" cy="71.50" r="2.0" fill="#3a0a3c" stroke="none" stroke-width="0"/>
<circle cx="280.43" cy="69.90" r="2.0" fill="#3a0a3c" stroke="none" stroke-width="0"/>
<circle cx="287.61" cy="69.90" r="2.0" fill="#3a0a3c" stroke="none" stroke-width="0"/>
<circle cx="294.80" cy="65.60" r="2.0" fill="#3a0a3c" stroke="none" stroke-width="0"/>
<circle cx="301.98" cy="62.60" r="2.0" fill="#3a0a3c" stroke="none" stroke-width="0"/>
<circle cx="309.16" cy="60.50" r="2.0" fill="#3a0a3c" stroke="none" stroke-width="0"/>
<circle cx="316.35" cy="59.00" r="2.0" fill="#3a0a3c" stroke="none" stroke-width="0"/>
<circle cx="323.53" cy="58.40" r="2.0" fill="#3a0a3c" stroke="none" stroke-width="0"/>
<circle cx="330.71" cy="57.60" r="2.0" fill="#3a0a3c" stroke="none" stroke-width="0"/>
<circle cx="337.89" cy="56.50" r="2.0" fill="#3a0a3c" stroke="none" stroke-width="0"/>
<circle cx="345.08" cy="56.30" r="2.0" fill="#3a0a3c" stroke="none" stroke-width="0"/>
<circle cx="352.26" cy="56.10" r="2.0" fill="#3a0a3c" stroke="none" stroke-width="0"/>
<circle cx="359.44" cy="56.00" r="2.0" fill="#3a0a3c" stroke="none" stroke-width="0"/>
<circle cx="366.63" cy="55.90" r="2.0" fill="#3a0a3c" stroke="none" stroke-width="0"/>
<circle cx="373.81" cy="55.90" r="2.0" fill="#3a0a3c" stroke="none" stroke-width="0"/>
<circle cx="380.99" cy="55.80" r="2.0" fill="#3a0a3c" stroke="none" stroke-width="0"/>
<circle cx="388.17" cy="55.80" r="2.0" fill="#3a0a3c" stroke="none" stroke-width="0"/>
<circle cx="395.36" cy="55.70" r="2.0" fill="#3a0a3c" stroke="none" stroke-width="0"/>
<circle cx="402.54" cy="55.70" r="2.0" fill="#3a0a3c" stroke="none" stroke-width="0"/>
<circle cx="409.72" cy="55.60" r="2.0" fill="#3a0a3c" stroke="none" stroke-width="0"/>
<circle cx="208.60" cy="118.10" r="2.0" fill="#10ea3a" stroke="none" stroke-width="0"/>
<circle cx="215.78" cy="99.00" r="2.0" fill="#10ea3a" stroke="none" stroke-width="0"/>
<circle cx="222.97" cy="76.80" r="2.0" fill="#10ea3a" stroke="none" stroke-width="0"/>
<circle cx="230.15" cy="65.60" r="2.0" fill="#10ea3a" stroke="none" stroke-width="0"/>
<circle cx="237.33" cy="61.10" r="2.0" fill="#10ea3a" stroke="none" stroke-width="0"/>
<circle cx="244.51" cy="59.80" r="2.0" fill="#10ea3a" stroke="none" stroke-width="0"/>
<circle cx="251.70" cy="61.90" r="2.0" fill="#10ea3a" stroke="none" stroke-width="0"/>
<circle cx="258.88" cy="60.10" r="2.0" fill="#10ea3a" stroke="none" stroke-width="0"/>
<circle cx="266.06" cy="58.30" r="2.0" fill="#10ea3a" stroke="none" stroke-width="0"/>
<circle cx="273.25" cy="57.50" r="2.0" fill="#10ea3a" stroke="none" stroke-width="0"/>
<circle cx="280.43" cy="56.80" r="2.0" fill="#10ea3a" stroke="none" stroke-width="0"/>
<circle cx="287.61" cy="56.40" r="2.0" fill="#10ea3a" stroke="none" stroke-width="0"/>
<circle cx="294.80" cy="56.00" r="2.0" fill="#10ea3a" stroke="none" stroke-width="0"/>
<circle cx="301.98" cy="56.10" r="2.0" fill="#10ea3a" stroke="none" stroke-width="0"/>
<circle cx="309.16" cy="56.00" r="2.0" fill="#10ea3a" stroke="none" stroke-width="0"/>
<circle cx="316.35" cy="56.00" r="2.0" fill="#10ea3a" stroke="none" stroke-width="0"/>
<circle cx="323.53" cy="55.90" r="2.0" fill="#10ea3a" stroke="none" stroke-width="0"/>
<circle cx="330.71" cy="55.90" r="2.0" fill="#10ea3a" stroke="none" stroke-width="0"/>
<circle cx="337.89" cy="55.80" r="2.0" fill="#10ea3a" stroke="none" stroke-width="0"/>
<circle cx="345.08" cy="55.80" r="2.0" fill="#10ea3a" stroke="none" stroke-width="0"/>
<circle cx="352.26" cy="55.80" r="2.0" fill="#10ea3a" stroke="none" stroke-width="0"/>
<circle cx="359.44" cy="55.70" r="2.0" fill="#10ea3a" stroke="none" stroke-width="0"/>
<circle cx="366.63" cy="55.70" r="2.0" fill="#10ea3a" stroke="none" stroke-width="0"/>
<circle cx="373.81" cy="55.70" r="2.0" fill="#10ea3a" stroke="none" stroke-width="0"/>
<circle cx="380.99" cy="55.70" r="2.0" fill="#10ea3a" stroke="none" stroke-width="0"/>
<circle cx="388.17" cy="55.60" r="2.0" fill="#10ea3a" stroke="none" stroke-width="0"/>
<circle cx="395.36" cy="55.60" r="2.0" fill="#10ea3a" stroke="none" stroke-width="0"/>
<circle cx="402.54" cy="55.60" r="2.0" fill="#10ea3a" stroke="none" stroke-width="0"/>
<text x="320.00" y="88.20" font-size="10.3" fill="#1ee01e" text-anchor="start" >TTN-GFP, n=6</text>
<text x="319.40" y="99.90" font-size="10.1" fill="#111" text-anchor="start" >19.9.11, n=6</text>
<rect x="453.90" y="17.10" width="111.40" height="90.30" fill="#000" filter="url(#nTL)"/>
<rect x="455.30" y="18.50" width="108.60" height="87.50" fill="none" stroke="#00f800" stroke-width="2.8"/>
<rect x="568" y="17" width="111.4" height="90.3" fill="#000" filter="url(#nTR)"/>
<rect x="568.00" y="17.00" width="111.40" height="90.30" fill="url(#trg)" stroke="none" stroke-width="0" />
<rect x="569.35" y="18.35" width="108.7" height="87.6" fill="none" stroke="#00f800" stroke-width="2.7"/>
<rect x="453.30" y="109.00" width="111.70" height="89.60" fill="#000" filter="url(#nBL)"/>
<rect x="454.55" y="110.25" width="109.20" height="87.10" fill="none" stroke="#000" stroke-width="2.5"/>
<rect x="567.40" y="108.90" width="111.50" height="89.70" fill="#061405"/>
<rect x="568.70" y="110.20" width="108.90" height="87.10" fill="none" stroke="#000" stroke-width="2.6"/>
<rect x="476.30" y="0.00" width="69.70" height="18.70" fill="#000" stroke="none" stroke-width="0" />
<text x="482.30" y="13.10" font-size="10.3" fill="#55dc3c" text-anchor="start" >Phase+GFP</text>
<rect x="613.30" y="0.00" width="34.70" height="18.70" fill="#000" stroke="none" stroke-width="0" />
<text x="619.70" y="13.10" font-size="10.1" fill="#55dc3c" text-anchor="start" >GFP</text>
<text x="461.00" y="99.40" font-size="7.3" fill="#fff" text-anchor="start" >300µm</text>
<rect x="460.40" y="100.30" width="21.50" height="1.80" fill="#fff" stroke="none" stroke-width="0" />
<text x="575.80" y="99.80" font-size="7.3" fill="#fff" text-anchor="start" >300µm</text>
<rect x="575.20" y="100.70" width="21.50" height="1.80" fill="#fff" stroke="none" stroke-width="0" />
<text x="462.60" y="189.30" font-size="7.3" fill="#fff" text-anchor="start" >300µm</text>
<rect x="462.20" y="192.70" width="21.50" height="1.80" fill="#fff" stroke="none" stroke-width="0" />
<text x="575.80" y="189.30" font-size="7.3" fill="#fff" text-anchor="start" >300µm</text>
<rect x="575.20" y="192.70" width="21.50" height="1.80" fill="#fff" stroke="none" stroke-width="0" />
<text transform="translate(446.60,62.20) rotate(-90)" x="0" y="0" font-size="9.7" fill="#000" text-anchor="middle" >TTN-GFP</text>
<text transform="translate(446.60,151.40) rotate(-90)" x="0" y="0" font-size="10.2" fill="#000" text-anchor="middle" >19.9.11 (no label)</text>
<path d="M39.20,282.20 L39.45,282.20 L39.70,282.20 L39.95,282.20 L40.20,282.20 L40.45,282.20 L40.70,282.20 L40.95,282.20 L41.20,282.20 L41.45,282.20 L41.70,282.20 L41.95,282.24 L42.20,282.34 L42.45,282.52 L42.70,282.77 L42.95,283.10 L43.20,283.49 L43.45,283.96 L43.70,284.50 L43.95,261.17 L44.20,237.83 L44.45,229.33 L44.70,232.26 L44.95,236.86 L45.20,242.59 L45.45,248.84 L45.70,255.02 L45.95,260.66 L46.20,265.47 L46.45,269.33 L46.70,272.26 L46.95,274.40 L47.20,275.90 L47.45,276.94 L47.70,277.66 L47.95,278.18 L48.20,278.56 L48.45,278.87 L48.70,279.12 L48.95,279.35 L49.20,279.55 L49.45,279.73 L49.70,279.90 L49.95,280.06 L50.20,280.21 L50.45,280.35 L50.70,280.47 L50.95,280.59 L51.20,280.70 L51.45,280.81 L51.70,280.90 L51.95,280.99 L52.20,281.08 L52.45,281.15 L52.70,281.23 L52.95,281.29 L53.20,281.36 L53.45,281.41 L53.70,281.47 L53.95,281.52 L54.20,281.57 L54.45,281.61 L54.70,281.65 L54.95,281.69 L55.20,281.72 L55.45,281.76 L55.70,281.79 L55.95,281.85 L56.20,281.99 L56.45,282.19 L56.70,282.46 L56.95,282.81 L57.20,283.22 L57.45,283.71 L57.70,284.50 L57.95,261.17 L58.20,237.83 L58.45,229.33 L58.70,232.26 L58.95,236.86 L59.20,242.59 L59.45,248.84 L59.70,255.02 L59.95,260.66 L60.20,265.47 L60.45,269.33 L60.70,272.26 L60.95,274.40 L61.20,275.90 L61.45,276.94 L61.70,277.66 L61.95,278.18 L62.20,278.56 L62.45,278.87 L62.70,279.12 L62.95,279.35 L63.20,279.55 L63.45,279.73 L63.70,279.90 L63.95,280.06 L64.20,280.21 L64.45,280.35 L64.70,280.47 L64.95,280.59 L65.20,280.70 L65.45,280.81 L65.70,280.90 L65.95,280.99 L66.20,281.08 L66.45,281.15 L66.70,281.23 L66.95,281.29 L67.20,281.36 L67.45,281.41 L67.70,281.47 L67.95,281.52 L68.20,281.57 L68.45,281.61 L68.70,281.65 L68.95,281.69 L69.20,281.72 L69.45,281.76 L69.70,281.79 L69.95,281.85 L70.20,281.99 L70.45,282.19 L70.70,282.46 L70.95,282.81 L71.20,283.22 L71.45,283.71 L71.70,284.50 L71.95,261.17 L72.20,237.83 L72.45,229.33 L72.70,232.26 L72.95,236.86 L73.20,242.59 L73.45,248.84 L73.70,255.02 L73.95,260.66 L74.20,265.47 L74.45,269.33 L74.70,272.26 L74.95,274.40 L75.20,275.90 L75.45,276.94 L75.70,277.66 L75.95,278.18 L76.20,278.56 L76.45,278.87 L76.70,279.12 L76.95,279.35 L77.20,279.55 L77.45,279.73 L77.70,279.90 L77.95,280.06 L78.20,280.21 L78.45,280.35 L78.70,280.47 L78.95,280.59 L79.20,280.70 L79.45,280.81 L79.70,280.90 L79.95,280.99 L80.20,281.08 L80.45,281.15 L80.70,281.23 L80.95,281.29 L81.20,281.36 L81.45,281.41 L81.70,281.47 L81.95,281.52 L82.20,281.57 L82.45,281.61 L82.70,281.65 L82.95,281.69 L83.20,281.72 L83.45,281.76 L83.70,281.79 L83.95,281.85 L84.20,281.99 L84.45,282.19 L84.70,282.46 L84.95,282.81 L85.20,283.22 L85.45,283.71 L85.70,284.50 L85.95,261.17 L86.20,237.83 L86.45,229.33 L86.70,232.26 L86.95,236.86 L87.20,242.59 L87.45,248.84 L87.70,255.02 L87.95,260.66 L88.20,265.47 L88.45,269.33 L88.70,272.26 L88.95,274.40 L89.20,275.90 L89.45,276.94 L89.70,277.66 L89.95,278.18 L90.20,278.56 L90.45,278.87 L90.70,279.12 L90.95,279.35 L91.20,279.55 L91.45,279.73 L91.70,279.90 L91.95,280.06 L92.20,280.21 L92.45,280.35 L92.70,280.47 L92.95,280.59 L93.20,280.70 L93.45,280.81 L93.70,280.90 L93.95,280.99 L94.20,281.08 L94.45,281.15 L94.70,281.23 L94.95,281.29 L95.20,281.36 L95.45,281.41 L95.70,281.47 L95.95,281.52 L96.20,281.57 L96.45,281.61 L96.70,281.65 L96.95,281.69 L97.20,281.72 L97.45,281.76 L97.70,281.79 L97.95,281.85 L98.20,281.99 L98.45,282.19 L98.70,282.46 L98.95,282.81 L99.20,283.22 L99.45,283.71 L99.70,284.50 L99.95,261.17 L100.20,237.83 L100.45,229.33 L100.70,232.26 L100.95,236.86 L101.20,242.59 L101.45,248.84 L101.70,255.02 L101.95,260.66 L102.20,265.47 L102.45,269.33 L102.70,272.26 L102.95,274.40 L103.20,275.90 L103.45,276.94 L103.70,277.66 L103.95,278.18 L104.20,278.56 L104.45,278.87 L104.70,279.12 L104.95,279.35 L105.20,279.55 L105.45,279.73 L105.70,279.90 L105.95,280.06 L106.20,280.21 L106.45,280.35 L106.70,280.47 L106.95,280.59 L107.20,280.70 L107.45,280.81 L107.70,280.90 L107.95,280.99 L108.20,281.08 L108.45,281.15 L108.70,281.23 L108.95,281.29 L109.20,281.36 L109.45,281.41 L109.70,281.47 L109.95,281.52 L110.20,281.57 L110.45,281.61 L110.70,281.65 L110.95,281.69 L111.20,281.72 L111.45,281.76 L111.70,281.79 L111.95,281.85 L112.20,281.99 L112.45,282.19 L112.70,282.46 L112.95,282.81 L113.20,283.22 L113.45,283.71 L113.70,284.50 L113.95,261.17 L114.20,237.83 L114.45,229.33 L114.70,232.26 L114.95,236.86 L115.20,242.59 L115.45,248.84 L115.70,255.02 L115.95,260.66 L116.20,265.47 L116.45,269.33 L116.70,272.26 L116.95,274.40 L117.20,275.90 L117.45,276.94 L117.70,277.66 L117.95,278.18 L118.20,278.56 L118.45,278.87 L118.70,279.12 L118.95,279.35 L119.20,279.55 L119.45,279.73 L119.70,279.90 L119.95,280.06 L120.20,280.21 L120.45,280.35 L120.70,280.47 L120.95,280.59 L121.20,280.70 L121.45,280.81 L121.70,280.90 L121.95,280.99 L122.20,281.08 L122.45,281.15 L122.70,281.23 L122.95,281.29 L123.20,281.36 L123.45,281.41 L123.70,281.47 L123.95,281.52 L124.20,281.57 L124.45,281.61 L124.70,281.65 L124.95,281.69 L125.20,281.72 L125.45,281.76 L125.70,281.79 L125.95,281.85 L126.20,281.99 L126.45,282.19 L126.70,282.46 L126.95,282.81 L127.20,283.22 L127.45,283.71 L127.70,284.27 L127.95,261.17 L128.20,237.83 L128.45,229.33 L128.70,232.26 L128.95,236.86 L129.20,242.59 L129.45,248.84 L129.70,255.02 L129.95,260.66 L130.20,265.47 L130.45,269.33 L130.70,272.26 L130.95,274.40 L131.20,275.90 L131.45,276.94 L131.70,277.66 L131.95,278.18 L132.20,278.56 L132.45,278.87 L132.70,279.12 L132.95,279.35 L133.20,279.55 L133.45,279.73 L133.70,279.90 L133.95,280.06 L134.20,280.21 L134.45,280.35 L134.70,280.47 L134.95,280.59 L135.20,280.70 L135.45,280.81 L135.70,280.90 L135.95,280.99 L136.20,281.08 L136.45,281.15 L136.70,281.23 L136.95,281.29 L137.20,281.36 L137.45,281.41 L137.70,281.47 L137.95,281.52 L138.20,281.57 L138.45,281.61 L138.70,281.65 L138.95,281.69 L139.20,281.72 L139.45,281.76 L139.70,281.79 L139.95,281.85 L140.20,281.99 L140.45,282.19 L140.70,282.46 L140.95,282.81 L141.20,283.22 L141.45,283.71 L141.70,284.27 L141.95,261.17 L142.20,237.83 L142.45,229.33 L142.70,232.26 L142.95,236.86 L143.20,242.59 L143.45,248.84 L143.70,255.02 L143.95,260.66 L144.20,265.47 L144.45,269.33 L144.70,272.26 L144.95,274.40 L145.20,275.90 L145.45,276.94 L145.70,277.66 L145.95,278.18 L146.20,278.56 L146.45,278.87 L146.70,279.12 L146.95,279.35 L147.20,279.55 L147.45,279.73 L147.70,279.90 L147.95,280.06 L148.20,280.21 L148.45,280.35 L148.70,280.47 L148.95,280.59 L149.20,280.70 L149.45,280.81 L149.70,280.90 L149.95,280.99 L150.20,281.08 L150.45,281.15 L150.70,281.23 L150.95,281.29 L151.20,281.36 L151.45,281.41 L151.70,281.47 L151.95,281.52 L152.20,281.57 L152.45,281.61 L152.70,281.65 L152.95,281.69 L153.20,281.72 L153.45,281.76 L153.70,281.79 L153.95,281.85 L154.20,281.99 L154.45,282.19 L154.70,282.46 L154.95,282.81 L155.20,283.22 L155.45,283.71 L155.70,284.27 L155.95,261.17 L156.20,237.83 L156.45,229.33 L156.70,232.26 L156.95,236.86 L157.20,242.59 L157.45,248.84 L157.70,255.02 L157.95,260.66 L158.20,265.47 L158.45,269.33 L158.70,272.26 L158.95,274.40 L159.20,275.90 L159.45,276.94 L159.70,277.66 L159.95,278.18 L160.20,278.56 L160.45,278.87 L160.70,279.12 L160.95,279.35 L161.20,279.55 L161.45,279.73 L161.70,279.90 L161.95,280.06 L162.20,280.21 L162.45,280.35 L162.70,280.47 L162.95,280.59 L163.20,280.70 L163.45,280.81 L163.70,280.90 L163.95,280.99 L164.20,281.08 L164.45,281.15 L164.70,281.23 L164.95,281.29 L165.20,281.36 L165.45,281.41 L165.70,281.47 L165.95,281.52 L166.20,281.57 L166.45,281.61 L166.70,281.65 L166.95,281.69" fill="none" stroke="#43a94b" stroke-width="0.9" stroke-linejoin="round"/>
<path d="M38.90,358.57 L39.15,358.74 L39.40,358.91 L39.65,359.08 L39.90,359.24 L40.15,359.41 L40.40,359.58 L40.65,359.75 L40.90,359.92 L41.15,360.08 L41.40,360.25 L41.65,360.42 L41.90,360.59 L42.15,360.76 L42.40,360.92 L42.65,361.09 L42.90,361.26 L43.15,361.44 L43.40,361.62 L43.65,361.82 L43.90,362.02 L44.15,362.14 L44.40,362.19 L44.65,362.26 L44.90,352.92 L45.15,329.46 L45.40,307.68 L45.65,309.87 L45.90,315.60 L46.15,323.58 L46.40,332.18 L46.65,340.04 L46.90,346.31 L47.15,350.78 L47.40,353.66 L47.65,355.38 L47.90,356.34 L48.15,356.88 L48.40,357.20 L48.65,357.43 L48.90,357.62 L49.15,357.80 L49.40,357.97 L49.65,358.14 L49.90,358.30 L50.15,358.47 L50.40,358.64 L50.65,358.81 L50.90,358.98 L51.15,359.14 L51.40,359.31 L51.65,359.48 L51.90,359.65 L52.15,359.82 L52.40,359.98 L52.65,360.15 L52.90,360.32 L53.15,360.49 L53.40,360.66 L53.65,360.83 L53.90,361.01 L54.15,361.19 L54.40,361.39 L54.65,361.60 L54.90,361.82 L55.15,362.04 L55.40,362.28 L55.65,345.41 L55.90,321.95 L56.15,307.94 L56.40,311.37 L56.65,317.99 L56.90,326.34 L57.15,334.83 L57.40,342.24 L57.65,347.93 L57.90,351.86 L58.15,354.32 L58.40,355.75 L58.65,356.55 L58.90,357.00 L59.15,357.28 L59.40,357.50 L59.65,357.68 L59.90,357.85 L60.15,358.02 L60.40,358.19 L60.65,358.36 L60.90,358.53 L61.15,358.69 L61.40,358.86 L61.65,359.03 L61.90,359.20 L62.15,359.37 L62.40,359.53 L62.65,359.70 L62.90,359.87 L63.15,360.04 L63.40,360.21 L63.65,360.37 L63.90,360.54 L64.15,360.71 L64.40,360.88 L64.65,361.07 L64.90,361.26 L65.15,361.46 L65.40,361.67 L65.65,361.89 L65.90,362.12 L66.15,361.36 L66.40,337.90 L66.65,314.44 L66.90,308.63 L67.15,313.20 L67.40,320.55 L67.65,329.11 L67.90,337.36 L68.15,344.26 L68.40,349.37 L68.65,352.78 L68.90,354.87 L69.15,356.06 L69.40,356.72 L69.65,357.10 L69.90,357.36 L70.15,357.56 L70.40,357.74 L70.65,357.91 L70.90,358.08 L71.15,358.24 L71.40,358.41 L71.65,358.58 L71.90,358.75 L72.15,358.92 L72.40,359.08 L72.65,359.25 L72.90,359.42 L73.15,359.59 L73.40,359.76 L73.65,359.92 L73.90,360.09 L74.15,360.26 L74.40,360.43 L74.65,360.60 L74.90,360.76 L75.15,360.94 L75.40,361.13 L75.65,361.32 L75.90,361.52 L76.15,361.74 L76.40,361.96 L76.65,362.19 L76.90,353.85 L77.15,330.40 L77.40,306.94 L77.65,309.71 L77.90,315.32 L78.15,323.23 L78.40,331.85 L78.65,339.75 L78.90,346.09 L79.15,350.63 L79.40,353.57 L79.65,355.33 L79.90,356.31 L80.15,356.86 L80.40,357.19 L80.65,357.42 L80.90,357.62 L81.15,357.79 L81.40,357.96 L81.65,358.13 L81.90,358.30 L82.15,358.47 L82.40,358.63 L82.65,358.80 L82.90,358.97 L83.15,359.14 L83.40,359.31 L83.65,359.47 L83.90,359.64 L84.15,359.81 L84.40,359.98 L84.65,360.15 L84.90,360.31 L85.15,360.48 L85.40,360.65 L85.65,360.82 L85.90,361.00 L86.15,361.19 L86.40,361.38 L86.65,361.59 L86.90,361.81 L87.15,362.03 L87.40,362.27 L87.65,346.35 L87.90,322.89 L88.15,307.89 L88.40,311.16 L88.65,317.68 L88.90,325.99 L89.15,334.51 L89.40,341.97 L89.65,347.74 L89.90,351.73 L90.15,354.24 L90.40,355.71 L90.65,356.52 L90.90,356.98 L91.15,357.27 L91.40,357.49 L91.65,357.67 L91.90,357.85 L92.15,358.01 L92.40,358.18 L92.65,358.35 L92.90,358.52 L93.15,358.69 L93.40,358.86 L93.65,359.02 L93.90,359.19 L94.15,359.36 L94.40,359.53 L94.65,359.70 L94.90,359.86 L95.15,360.03 L95.40,360.20 L95.65,360.37 L95.90,360.54 L96.15,360.70 L96.40,360.88 L96.65,361.06 L96.90,361.25 L97.15,361.45 L97.40,361.66 L97.65,361.88 L97.90,362.11 L98.15,362.30 L98.40,338.84 L98.65,315.38 L98.90,308.52 L99.15,312.95 L99.40,320.22 L99.65,328.76 L99.90,337.05 L100.15,344.02 L100.40,349.20 L100.65,352.68 L100.90,354.80 L101.15,356.02 L101.40,356.70 L101.65,357.09 L101.90,357.35 L102.15,357.55 L102.40,357.73 L102.65,357.90 L102.90,358.07 L103.15,358.24 L103.40,358.40 L103.65,358.57 L103.90,358.74 L104.15,358.91 L104.40,359.08 L104.65,359.24 L104.90,359.41 L105.15,359.58 L105.40,359.75 L105.65,359.92 L105.90,360.08 L106.15,360.25 L106.40,360.42 L106.65,360.59 L106.90,360.76 L107.15,360.93 L107.40,361.12 L107.65,361.31 L107.90,361.52 L108.15,361.73 L108.40,361.95 L108.65,362.18 L108.90,354.79 L109.15,331.33 L109.40,307.88 L109.65,309.55 L109.90,315.04 L110.15,322.89 L110.40,331.51 L110.65,339.46 L110.90,345.88 L111.15,350.49 L111.40,353.48 L111.65,355.27 L111.90,356.28 L112.15,356.85 L112.40,357.18 L112.65,357.42 L112.90,357.61 L113.15,357.78 L113.40,357.95 L113.65,358.12 L113.90,358.29 L114.15,358.46 L114.40,358.63 L114.65,358.79 L114.90,358.96 L115.15,359.13 L115.40,359.30 L115.65,359.47 L115.90,359.63 L116.15,359.80 L116.40,359.97 L116.65,360.14 L116.90,360.31 L117.15,360.47 L117.40,360.64 L117.65,360.81 L117.90,360.99 L118.15,361.18 L118.40,361.38 L118.65,361.58 L118.90,361.80 L119.15,362.03 L119.40,362.26 L119.65,347.29 L119.90,323.83 L120.15,307.84 L120.40,310.96 L120.65,317.37 L120.90,325.64 L121.15,334.18 L121.40,341.70 L121.65,347.55 L121.90,351.60 L122.15,354.17 L122.40,355.66 L122.65,356.50 L122.90,356.97 L123.15,357.26 L123.40,357.48 L123.65,357.67 L123.90,357.84 L124.15,358.01 L124.40,358.18 L124.65,358.34 L124.90,358.51 L125.15,358.68 L125.40,358.85 L125.65,359.02 L125.90,359.18 L126.15,359.35 L126.40,359.52 L126.65,359.69 L126.90,359.86 L127.15,360.02 L127.40,360.19 L127.65,360.36 L127.90,360.53 L128.15,360.70 L128.40,360.87 L128.65,361.05 L128.90,361.24 L129.15,361.44 L129.40,361.65 L129.65,361.87 L129.90,362.10 L130.15,362.30 L130.40,339.78 L130.65,316.32 L130.90,308.42 L131.15,312.71 L131.40,319.89 L131.65,328.42 L131.90,336.74 L132.15,343.77 L132.40,349.03 L132.65,352.57 L132.90,354.74 L133.15,355.98 L133.40,356.68 L133.65,357.08 L133.90,357.34 L134.15,357.54 L134.40,357.72 L134.65,357.89 L134.90,358.06 L135.15,358.23 L135.40,358.40 L135.65,358.57 L135.90,358.73 L136.15,358.90 L136.40,359.07 L136.65,359.24 L136.90,359.41 L137.15,359.57 L137.40,359.74 L137.65,359.91 L137.90,360.08 L138.15,360.25 L138.40,360.41 L138.65,360.58 L138.90,360.75 L139.15,360.93 L139.40,361.11 L139.65,361.30 L139.90,361.51 L140.15,361.72 L140.40,361.94 L140.65,362.17 L140.90,355.73 L141.15,332.27 L141.40,308.82 L141.65,309.40 L141.90,314.77 L142.15,322.55 L142.40,331.17 L142.65,339.17 L142.90,345.65 L143.15,350.34 L143.40,353.39 L143.65,355.22 L143.90,356.25 L144.15,356.83 L144.40,357.17 L144.65,357.41 L144.90,357.60 L145.15,357.78 L145.40,357.95 L145.65,358.12 L145.90,358.28 L146.15,358.45 L146.40,358.62 L146.65,358.79 L146.90,358.96 L147.15,359.12 L147.40,359.29 L147.65,359.46 L147.90,359.63 L148.15,359.80 L148.40,359.96 L148.65,360.13 L148.90,360.30 L149.15,360.47 L149.40,360.64 L149.65,360.81 L149.90,360.98 L150.15,361.17 L150.40,361.37 L150.65,361.58 L150.90,361.79 L151.15,362.02 L151.40,362.25 L151.65,348.22 L151.90,324.77 L152.15,307.80 L152.40,310.77 L152.65,317.07 L152.90,325.30 L153.15,333.85 L153.40,341.43 L153.65,347.35 L153.90,351.47 L154.15,354.09 L154.40,355.62 L154.65,356.47 L154.90,356.96 L155.15,357.26 L155.40,357.47 L155.65,357.66 L155.90,357.83 L156.15,358.00 L156.40,358.17 L156.65,358.34 L156.90,358.51 L157.15,358.67 L157.40,358.84 L157.65,359.01 L157.90,359.18 L158.15,359.35 L158.40,359.51 L158.65,359.68 L158.90,359.85 L159.15,360.02 L159.40,360.19 L159.65,360.35 L159.90,360.52 L160.15,360.69 L160.40,360.86 L160.65,361.04 L160.90,361.23 L161.15,361.43 L161.40,361.64 L161.65,361.86 L161.90,362.09 L162.15,362.29 L162.40,340.72 L162.65,317.26 L162.90,308.32 L163.15,312.48 L163.40,319.57 L163.65,328.07 L163.90,336.43 L164.15,343.52 L164.40,348.85 L164.65,352.45 L164.90,354.67" fill="none" stroke="#43a94b" stroke-width="0.9" stroke-linejoin="round"/>
<path d="M197.20,237.70 L197.45,242.17 L197.70,246.64 L197.95,250.97 L198.20,255.05 L198.45,258.84 L198.70,262.30 L198.95,265.42 L199.20,268.20 L199.45,270.65 L199.70,272.79 L199.95,274.65 L200.20,276.26 L200.45,277.62 L200.70,278.79 L200.95,279.77 L201.20,280.59 L201.45,281.28 L201.70,281.85 L201.95,282.32 L202.20,282.70 L202.45,283.02 L202.70,283.28 L202.95,283.49 L203.20,283.65 L203.45,283.79 L203.70,283.90 L203.95,283.98 L204.20,284.05 L204.45,284.11 L204.70,284.15 L204.95,284.19 L205.20,284.23 L205.45,284.28 L205.70,284.35 L205.95,284.42 L206.20,284.51 L206.45,284.62 L206.70,284.73 L206.95,272.63 L207.20,252.34 L207.45,232.06 L207.70,229.81 L207.95,233.45 L208.20,237.70 L208.45,242.17 L208.70,246.64 L208.95,250.97 L209.20,255.05 L209.45,258.84 L209.70,262.30 L209.95,265.42 L210.20,268.20 L210.45,270.65 L210.70,272.79 L210.95,274.65 L211.20,276.26 L211.45,277.62 L211.70,278.79 L211.95,279.77 L212.20,280.59 L212.45,281.28 L212.70,281.85 L212.95,282.32 L213.20,282.70 L213.45,283.02 L213.70,283.28 L213.95,283.49 L214.20,283.65 L214.45,283.79 L214.70,283.90 L214.95,283.98 L215.20,284.05 L215.45,284.12 L215.70,284.19 L215.95,284.26 L216.20,284.35 L216.45,284.44 L216.70,284.54 L216.95,284.66 L217.20,281.55 L217.45,261.27 L217.70,240.98 L217.95,228.60 L218.20,231.74 L218.45,235.79 L218.70,240.19 L218.95,244.69 L219.20,249.09 L219.45,253.29 L219.70,257.21 L219.95,260.82 L220.20,264.09 L220.45,267.02 L220.70,269.61 L220.95,271.89 L221.20,273.87 L221.45,275.58 L221.70,277.05 L221.95,278.30 L222.20,279.36 L222.45,280.25 L222.70,280.99 L222.95,281.61 L223.20,282.12 L223.45,282.54 L223.70,282.89 L223.95,283.17 L224.20,283.40 L224.45,283.58 L224.70,283.73 L224.95,283.85 L225.20,283.95 L225.45,284.02 L225.70,284.09 L225.95,284.16 L226.20,284.23 L226.45,284.31 L226.70,284.40 L226.95,284.50 L227.20,284.61 L227.45,284.73 L227.70,270.19 L227.95,249.91 L228.20,229.62 L228.45,230.20 L228.70,233.94 L228.95,238.23 L229.20,242.71 L229.45,247.17 L229.70,251.47 L229.95,255.53 L230.20,259.27 L230.45,262.69 L230.70,265.77 L230.95,268.51 L231.20,270.92 L231.45,273.03 L231.70,274.86 L231.95,276.43 L232.20,277.77 L232.45,278.91 L232.70,279.87 L232.95,280.68 L233.20,281.35 L233.45,281.91 L233.70,282.37 L233.95,282.74 L234.20,283.05 L234.45,283.30 L234.70,283.51 L234.95,283.67 L235.20,283.80 L235.45,283.91 L235.70,283.99 L235.95,284.06 L236.20,284.13 L236.45,284.20 L236.70,284.27 L236.95,284.36 L237.20,284.45 L237.45,284.56 L237.70,284.67 L237.95,279.12 L238.20,258.83 L238.45,238.55 L238.70,228.89 L238.95,232.20 L239.20,236.30 L239.45,240.73 L239.70,245.22 L239.95,249.61 L240.20,253.78 L240.45,257.66 L240.70,261.23 L240.95,264.46 L241.20,267.34 L241.45,269.90 L241.70,272.14 L241.95,274.09 L242.20,275.77 L242.45,277.21 L242.70,278.44 L242.95,279.47 L243.20,280.34 L243.45,281.07 L243.70,281.68 L243.95,282.18 L244.20,282.59 L244.45,282.93 L244.70,283.20 L244.95,283.42 L245.20,283.60 L245.45,283.75 L245.70,283.87 L245.95,283.96 L246.20,284.03 L246.45,284.10 L246.70,284.16 L246.95,284.24 L247.20,284.32 L247.45,284.41 L247.70,284.51 L247.95,284.62 L248.20,284.75 L248.45,267.76 L248.70,247.47 L248.95,228.03 L249.20,230.60 L249.45,234.44 L249.70,238.76 L249.95,243.25 L250.20,247.70 L250.45,251.97 L250.70,255.99 L250.95,259.70 L251.20,263.08 L251.45,266.12 L251.70,268.81 L251.95,271.19 L252.20,273.26 L252.45,275.06 L252.70,276.60 L252.95,277.92 L253.20,279.04 L253.45,279.98 L253.70,280.77 L253.95,281.42 L254.20,281.97 L254.45,282.42 L254.70,282.79 L254.95,283.09 L255.20,283.33 L255.45,283.53 L255.70,283.69 L255.95,283.82 L256.20,283.92 L256.45,284.00 L256.70,284.07 L256.95,284.13 L257.20,284.20 L257.45,284.28 L257.70,284.37 L257.95,284.46 L258.20,284.57 L258.45,284.69 L258.70,276.69 L258.95,256.40 L259.20,236.11 L259.45,229.22 L259.70,232.66 L259.95,236.82 L260.20,241.27 L260.45,245.76 L260.70,250.12 L260.95,254.26 L261.20,258.11 L261.45,261.64 L261.70,264.82 L261.95,267.67 L262.20,270.18 L262.45,272.39 L262.70,274.30 L262.95,275.95 L263.20,277.37 L263.45,278.57 L263.70,279.58 L263.95,280.44 L264.20,281.15 L264.45,281.74 L264.70,282.23 L264.95,282.63 L265.20,282.96 L265.45,283.23 L265.70,283.45 L265.95,283.62 L266.20,283.76 L266.45,283.88 L266.70,283.97 L266.95,284.04 L267.20,284.10 L267.45,284.17 L267.70,284.25 L267.95,284.33 L268.20,284.42 L268.45,284.52 L268.70,284.64 L268.95,284.76 L269.20,265.33 L269.45,245.04 L269.70,228.19 L269.95,231.02 L270.20,234.94 L270.45,239.30 L270.70,243.79 L270.95,248.22 L271.20,252.47 L271.45,256.45 L271.70,260.13 L271.95,263.46 L272.20,266.46 L272.45,269.12 L272.70,271.46 L272.95,273.49 L273.20,275.26 L273.45,276.77 L273.70,278.06 L273.95,279.16 L274.20,280.08 L274.45,280.85 L274.70,281.49 L274.95,282.03 L275.20,282.47 L275.45,282.82 L275.70,283.12 L275.95,283.36 L276.20,283.55 L276.45,283.71 L276.70,283.83 L276.95,283.93 L277.20,284.01 L277.45,284.08 L277.70,284.14 L277.95,284.21 L278.20,284.29 L278.45,284.38 L278.70,284.48 L278.95,284.58 L279.20,284.70 L279.45,274.25 L279.70,253.97 L279.95,233.68 L280.20,229.57 L280.45,233.13 L280.70,237.35 L280.95,241.81 L281.20,246.29 L281.45,250.63 L281.70,254.74 L281.95,258.55 L282.20,262.04 L282.45,265.18 L282.70,267.99 L282.95,270.46 L283.20,272.63 L283.45,274.51 L283.70,276.14 L283.95,277.52 L284.20,278.70 L284.45,279.69 L284.70,280.53 L284.95,281.23 L285.20,281.80 L285.45,282.28 L285.70,282.68 L285.95,283.00 L286.20,283.26 L286.45,283.47 L286.70,283.64 L286.95,283.78 L287.20,283.89 L287.45,283.98 L287.70,284.05 L287.95,284.11 L288.20,284.18 L288.45,284.26 L288.70,284.34 L288.95,284.43 L289.20,284.53 L289.45,284.65 L289.70,283.18 L289.95,262.89 L290.20,242.61 L290.45,228.42 L290.70,231.45 L290.95,235.45 L291.20,239.84 L291.45,244.33 L291.70,248.74 L291.95,252.96 L292.20,256.91 L292.45,260.54 L292.70,263.84 L292.95,266.79 L293.20,269.41 L293.45,271.72 L293.70,273.72 L293.95,275.45 L294.20,276.94 L294.45,278.21 L294.70,279.28 L294.95,280.18 L295.20,280.94 L295.45,281.56 L295.70,282.08 L295.95,282.51 L296.20,282.86 L296.45,283.15 L296.70,283.38 L296.95,283.57 L297.20,283.72 L297.45,283.84 L297.70,283.94 L297.95,284.02 L298.20,284.08 L298.45,284.15 L298.70,284.22 L298.95,284.30 L299.20,284.39 L299.45,284.49 L299.70,284.60 L299.95,284.72 L300.20,271.82 L300.45,251.53 L300.70,231.25 L300.95,229.94 L301.20,233.61 L301.45,237.88 L301.70,242.35 L301.95,246.82 L302.20,251.14 L302.45,255.21 L302.70,258.99 L302.95,262.43 L303.20,265.54 L303.45,268.30 L303.70,270.74 L303.95,272.87 L304.20,274.72 L304.45,276.31 L304.70,277.67 L304.95,278.83 L305.20,279.80 L305.45,280.62 L305.70,281.30 L305.95,281.87 L306.20,282.33 L306.45,282.72 L306.70,283.03 L306.95,283.29 L307.20,283.49 L307.45,283.66 L307.70,283.79 L307.95,283.90 L308.20,283.99 L308.45,284.06 L308.70,284.12 L308.95,284.19 L309.20,284.26 L309.45,284.35 L309.70,284.44 L309.95,284.55 L310.20,284.66 L310.45,280.74 L310.70,260.46 L310.95,240.17 L311.20,228.69 L311.45,231.89 L311.70,235.96 L311.95,240.37 L312.20,244.87 L312.45,249.26 L312.70,253.45 L312.95,257.36 L313.20,260.96 L313.45,264.21 L313.70,267.13 L313.95,269.71 L314.20,271.97 L314.45,273.94 L314.70,275.64 L314.95,277.10 L315.20,278.34 L315.45,279.39 L315.70,280.28 L315.95,281.02 L316.20,281.63 L316.45,282.14 L316.70,282.56 L316.95,282.90 L317.20,283.18 L317.45,283.41 L317.70,283.59 L317.95,283.74 L318.20,283.86 L318.45,283.95 L318.70,284.03 L318.95,284.09 L319.20,284.16 L319.45,284.23 L319.70,284.31 L319.95,284.40 L320.20,284.50 L320.45,284.61 L320.70,284.74 L320.95,269.38 L321.20,249.10 L321.45,228.81 L321.70,230.33 L321.95,234.10 L322.20,238.41 L322.45,242.89 L322.70,247.35 L322.95,251.64 L323.20,255.68 L323.45,259.42 L323.70,262.82 L323.95,265.89 L324.20,268.61 L324.45,271.01 L324.70,273.11 L324.95,274.93 L325.20,276.49 L325.45,277.82" fill="none" stroke="#2a7269" stroke-width="0.8" stroke-linejoin="round"/>
<path d="M197.80,361.83 L198.05,361.85 L198.30,361.89 L198.55,361.94 L198.80,361.99 L199.05,362.06 L199.30,357.82 L199.55,347.13 L199.80,336.44 L200.05,325.75 L200.30,315.05 L200.55,306.79 L200.80,310.01 L201.05,314.36 L201.30,319.12 L201.55,323.94 L201.80,328.63 L202.05,333.04 L202.30,337.10 L202.55,340.77 L202.80,344.04 L203.05,346.91 L203.30,349.41 L203.55,351.56 L203.80,353.39 L204.05,354.93 L204.30,356.22 L204.55,357.30 L204.80,358.18 L205.05,358.91 L205.30,359.50 L205.55,359.99 L205.80,360.40 L206.05,360.73 L206.30,361.02 L206.55,361.26 L206.80,361.47 L207.05,361.65 L207.30,357.82 L207.55,347.13 L207.80,336.44 L208.05,325.75 L208.30,315.05 L208.55,306.79 L208.80,310.01 L209.05,314.36 L209.30,319.12 L209.55,323.94 L209.80,328.63 L210.05,333.04 L210.30,337.10 L210.55,340.77 L210.80,344.04 L211.05,346.91 L211.30,349.41 L211.55,351.56 L211.80,353.39 L212.05,354.93 L212.30,356.22 L212.55,357.30 L212.80,358.18 L213.05,358.91 L213.30,359.50 L213.55,359.99 L213.80,360.40 L214.05,360.73 L214.30,361.02 L214.55,361.26 L214.80,361.47 L215.05,361.65 L215.30,357.82 L215.55,347.13 L215.80,336.44 L216.05,325.75 L216.30,315.05 L216.55,306.79 L216.80,310.01 L217.05,314.36 L217.30,319.12 L217.55,323.94 L217.80,328.63 L218.05,333.04 L218.30,337.10 L218.55,340.77 L218.80,344.04 L219.05,346.91 L219.30,349.41 L219.55,351.56 L219.80,353.39 L220.05,354.93 L220.30,356.22 L220.55,357.30 L220.80,358.18 L221.05,358.91 L221.30,359.50 L221.55,359.99 L221.80,360.40 L222.05,360.73 L222.30,361.02 L222.55,361.26 L222.80,361.47 L223.05,361.65 L223.30,357.82 L223.55,347.13 L223.80,336.44 L224.05,325.75 L224.30,315.05 L224.55,306.79 L224.80,310.01 L225.05,314.36 L225.30,319.12 L225.55,323.94 L225.80,328.63 L226.05,333.04 L226.30,337.10 L226.55,340.77 L226.80,344.04 L227.05,346.91 L227.30,349.41 L227.55,351.56 L227.80,353.39 L228.05,354.93 L228.30,356.22 L228.55,357.30 L228.80,358.18 L229.05,358.91 L229.30,359.50 L229.55,359.99 L229.80,360.40 L230.05,360.73 L230.30,361.02 L230.55,361.26 L230.80,361.47 L231.05,361.65 L231.30,357.82 L231.55,347.13 L231.80,336.44 L232.05,325.75 L232.30,315.05 L232.55,306.79 L232.80,310.01 L233.05,314.36 L233.30,319.12 L233.55,323.94 L233.80,328.63 L234.05,333.04 L234.30,337.10 L234.55,340.77 L234.80,344.04 L235.05,346.91 L235.30,349.41 L235.55,351.56 L235.80,353.39 L236.05,354.93 L236.30,356.22 L236.55,357.30 L236.80,358.18 L237.05,358.91 L237.30,359.50 L237.55,359.99 L237.80,360.40 L238.05,360.73 L238.30,361.02 L238.55,361.26 L238.80,361.47 L239.05,361.65 L239.30,357.82 L239.55,347.13 L239.80,336.44 L240.05,325.75 L240.30,315.05 L240.55,306.79 L240.80,310.01 L241.05,314.36 L241.30,319.12 L241.55,323.94 L241.80,328.63 L242.05,333.04 L242.30,337.10 L242.55,340.77 L242.80,344.04 L243.05,346.91 L243.30,349.41 L243.55,351.56 L243.80,353.39 L244.05,354.93 L244.30,356.22 L244.55,357.30 L244.80,358.18 L245.05,358.91 L245.30,359.50 L245.55,359.99 L245.80,360.40 L246.05,360.73 L246.30,361.02 L246.55,361.26 L246.80,361.47 L247.05,361.65 L247.30,357.82 L247.55,347.13 L247.80,336.44 L248.05,325.75 L248.30,315.05 L248.55,306.79 L248.80,310.01 L249.05,314.36 L249.30,319.12 L249.55,323.94 L249.80,328.63 L250.05,333.04 L250.30,337.10 L250.55,340.77 L250.80,344.04 L251.05,346.91 L251.30,349.41 L251.55,351.56 L251.80,353.39 L252.05,354.93 L252.30,356.22 L252.55,357.30 L252.80,358.18 L253.05,358.91 L253.30,359.50 L253.55,359.99 L253.80,360.40 L254.05,360.73 L254.30,361.02 L254.55,361.26 L254.80,361.47 L255.05,361.65 L255.30,357.82 L255.55,347.13 L255.80,336.44 L256.05,325.75 L256.30,315.05 L256.55,306.79 L256.80,310.01 L257.05,314.36 L257.30,319.12 L257.55,323.94 L257.80,328.63 L258.05,333.04 L258.30,337.10 L258.55,340.77 L258.80,344.04 L259.05,346.91 L259.30,349.41 L259.55,351.56 L259.80,353.39 L260.05,354.93 L260.30,356.22 L260.55,357.30 L260.80,358.18 L261.05,358.91 L261.30,359.50 L261.55,359.99 L261.80,360.40 L262.05,360.73 L262.30,361.02 L262.55,361.26 L262.80,361.47 L263.05,361.65 L263.30,357.82 L263.55,347.13 L263.80,336.44 L264.05,325.75 L264.30,315.05 L264.55,306.79 L264.80,310.01 L265.05,314.36 L265.30,319.12 L265.55,323.94 L265.80,328.63 L266.05,333.04 L266.30,337.10 L266.55,340.77 L266.80,344.04 L267.05,346.91 L267.30,349.41 L267.55,351.56 L267.80,353.39 L268.05,354.93 L268.30,356.22 L268.55,357.30 L268.80,358.18 L269.05,358.91 L269.30,359.50 L269.55,359.99 L269.80,360.40 L270.05,360.73 L270.30,361.02 L270.55,361.26 L270.80,361.47 L271.05,361.65 L271.30,357.82 L271.55,347.13 L271.80,336.44 L272.05,325.75 L272.30,315.05 L272.55,306.79 L272.80,310.01 L273.05,314.36 L273.30,319.12 L273.55,323.94 L273.80,328.63 L274.05,333.04 L274.30,337.10 L274.55,340.77 L274.80,344.04 L275.05,346.91 L275.30,349.41 L275.55,351.56 L275.80,353.39 L276.05,354.93 L276.30,356.22 L276.55,357.30 L276.80,358.18 L277.05,358.91 L277.30,359.50 L277.55,359.99 L277.80,360.40 L278.05,360.73 L278.30,361.02 L278.55,361.26 L278.80,361.47 L279.05,361.65 L279.30,357.82 L279.55,347.13 L279.80,336.44 L280.05,325.75 L280.30,315.05 L280.55,306.79 L280.80,310.01 L281.05,314.36 L281.30,319.12 L281.55,323.94 L281.80,328.63 L282.05,333.04 L282.30,337.10 L282.55,340.77 L282.80,344.04 L283.05,346.91 L283.30,349.41 L283.55,351.56 L283.80,353.39 L284.05,354.93 L284.30,356.22 L284.55,357.30 L284.80,358.18 L285.05,358.91 L285.30,359.50 L285.55,359.99 L285.80,360.40 L286.05,360.73 L286.30,361.02 L286.55,361.26 L286.80,361.47 L287.05,361.65 L287.30,357.82 L287.55,347.13 L287.80,336.44 L288.05,325.75 L288.30,315.05 L288.55,306.79 L288.80,310.01 L289.05,314.36 L289.30,319.12 L289.55,323.94 L289.80,328.63 L290.05,333.04 L290.30,337.10 L290.55,340.77 L290.80,344.04 L291.05,346.91 L291.30,349.41 L291.55,351.56 L291.80,353.39 L292.05,354.93 L292.30,356.22 L292.55,357.30 L292.80,358.18 L293.05,358.91 L293.30,359.50 L293.55,359.99 L293.80,360.40 L294.05,360.73 L294.30,361.02 L294.55,361.26 L294.80,361.47 L295.05,361.65 L295.30,357.82 L295.55,347.13 L295.80,336.44 L296.05,325.75 L296.30,315.05 L296.55,306.79 L296.80,310.01 L297.05,314.36 L297.30,319.12 L297.55,323.94 L297.80,328.63 L298.05,333.04 L298.30,337.10 L298.55,340.77 L298.80,344.04 L299.05,346.91 L299.30,349.41 L299.55,351.56 L299.80,353.39 L300.05,354.93 L300.30,356.22 L300.55,357.30 L300.80,358.18 L301.05,358.91 L301.30,359.50 L301.55,359.99 L301.80,360.40 L302.05,360.73 L302.30,361.02 L302.55,361.26 L302.80,361.47 L303.05,361.65 L303.30,357.82 L303.55,347.13 L303.80,336.44 L304.05,325.75 L304.30,315.05 L304.55,306.79 L304.80,310.01 L305.05,314.36 L305.30,319.12 L305.55,323.94 L305.80,328.63 L306.05,333.04 L306.30,337.10 L306.55,340.77 L306.80,344.04 L307.05,346.91 L307.30,349.41 L307.55,351.56 L307.80,353.39 L308.05,354.93 L308.30,356.22 L308.55,357.30 L308.80,358.18 L309.05,358.91 L309.30,359.50 L309.55,359.99 L309.80,360.40 L310.05,360.73 L310.30,361.02 L310.55,361.26 L310.80,361.47 L311.05,361.65 L311.30,357.82 L311.55,347.13 L311.80,336.44 L312.05,325.75 L312.30,315.05 L312.55,306.79 L312.80,310.01 L313.05,314.36 L313.30,319.12 L313.55,323.94 L313.80,328.63 L314.05,333.04 L314.30,337.10 L314.55,340.77 L314.80,344.04 L315.05,346.91 L315.30,349.41 L315.55,351.56 L315.80,353.39 L316.05,354.93 L316.30,356.22 L316.55,357.30 L316.80,358.18 L317.05,358.91 L317.30,359.50 L317.55,359.99 L317.80,360.40 L318.05,360.73 L318.30,361.02 L318.55,361.26 L318.80,361.47 L319.05,361.65 L319.30,357.82 L319.55,347.13 L319.80,336.44 L320.05,325.75 L320.30,315.05 L320.55,306.79 L320.80,310.01 L321.05,314.36 L321.30,319.12 L321.55,323.94 L321.80,328.63 L322.05,333.04 L322.30,337.10 L322.55,340.77 L322.80,344.04 L323.05,346.91 L323.30,349.41 L323.55,351.56 L323.80,353.39 L324.05,354.93 L324.30,356.22 L324.55,357.30 L324.80,358.18 L325.05,358.91 L325.30,359.50 L325.55,359.98" fill="none" stroke="#2a7269" stroke-width="0.8" stroke-linejoin="round"/>
<text x="56.30" y="219.50" font-size="10" fill="#000" text-anchor="start" >TTN-GFP hiPSC-CMs</text>
<text x="224.60" y="219.60" font-size="10" fill="#000" text-anchor="start" >19.9.11 hiPSC-CMs</text>
<text transform="translate(8.40,253.80) rotate(-90)" x="0" y="0" font-size="10" fill="#000" text-anchor="middle" >Baseline</text>
<text transform="translate(12.10,333.60) rotate(-90)" x="0" y="0" font-size="10.1" fill="#000" text-anchor="middle" >+200nM ISO</text>
<line x1="36.00" y1="268.10" x2="36.00" y2="285.00" stroke="#111" stroke-width="1.5" />
<text x="34.20" y="279.30" font-size="8.3" fill="#333" text-anchor="end" textLength="17.6" lengthAdjust="spacingAndGlyphs">0.1au</text>
<line x1="39.20" y1="297.70" x2="68.00" y2="297.70" stroke="#111" stroke-width="1.5" />
<text x="53.80" y="293.60" font-size="7.4" fill="#222" text-anchor="middle" >2s</text>
<line x1="36.20" y1="344.20" x2="36.20" y2="360.60" stroke="#111" stroke-width="1.5" />
<text x="34.40" y="356.80" font-size="8.3" fill="#333" text-anchor="end" textLength="17.6" lengthAdjust="spacingAndGlyphs">0.1au</text>
<line x1="39.60" y1="373.70" x2="68.00" y2="373.70" stroke="#111" stroke-width="1.5" />
<text x="53.80" y="370.80" font-size="7.4" fill="#222" text-anchor="middle" >2s</text>
<line x1="191.50" y1="270.10" x2="191.50" y2="284.00" stroke="#111" stroke-width="1.5" />
<text x="189.90" y="280.80" font-size="8.3" fill="#333" text-anchor="end" textLength="17.6" lengthAdjust="spacingAndGlyphs">0.1au</text>
<line x1="194.00" y1="297.10" x2="223.20" y2="297.10" stroke="#111" stroke-width="1.5" />
<text x="208.80" y="293.60" font-size="7.4" fill="#222" text-anchor="middle" >2s</text>
<line x1="191.60" y1="348.50" x2="191.60" y2="361.30" stroke="#111" stroke-width="1.5" />
<text x="189.90" y="357.40" font-size="8.3" fill="#333" text-anchor="end" textLength="17.6" lengthAdjust="spacingAndGlyphs">0.1au</text>
<line x1="194.00" y1="374.20" x2="223.20" y2="374.20" stroke="#111" stroke-width="1.5" />
<text x="208.80" y="370.50" font-size="7.4" fill="#222" text-anchor="middle" >2s</text>
<line x1="380.20" y1="356.20" x2="384.20" y2="356.20" stroke="#000" stroke-width="1.1" />
<text x="378.80" y="358.80" font-size="7.5" fill="#000" text-anchor="end" >0</text>
<line x1="380.20" y1="330.35" x2="384.20" y2="330.35" stroke="#000" stroke-width="1.1" />
<text x="378.80" y="332.95" font-size="7.5" fill="#000" text-anchor="end" >50</text>
<line x1="380.20" y1="304.50" x2="384.20" y2="304.50" stroke="#000" stroke-width="1.1" />
<text x="378.80" y="307.10" font-size="7.5" fill="#000" text-anchor="end" >100</text>
<line x1="380.20" y1="278.65" x2="384.20" y2="278.65" stroke="#000" stroke-width="1.1" />
<text x="378.80" y="281.25" font-size="7.5" fill="#000" text-anchor="end" >150</text>
<line x1="380.20" y1="252.80" x2="384.20" y2="252.80" stroke="#000" stroke-width="1.1" />
<text x="378.80" y="255.40" font-size="7.5" fill="#000" text-anchor="end" >200</text>
<line x1="384.20" y1="252.10" x2="384.20" y2="356.80" stroke="#000" stroke-width="1.3" />
<line x1="383.60" y1="356.20" x2="489.00" y2="356.20" stroke="#000" stroke-width="1.3" />
<rect x="392.80" y="320.50" width="15.20" height="35.70" fill="#00ff00" stroke="#000" stroke-width="1.45" />
<rect x="417.30" y="307.80" width="14.70" height="48.40" fill="url(#hg)" stroke="#000" stroke-width="1.45" />
<rect x="441.40" y="304.30" width="14.20" height="51.90" fill="#a3a3a8" stroke="#000" stroke-width="1.45" />
<rect x="465.70" y="288.00" width="13.80" height="68.20" fill="url(#hk)" stroke="#000" stroke-width="1.45" />
<line x1="400.40" y1="314.50" x2="400.40" y2="325.00" stroke="#000" stroke-width="1.1" />
<line x1="397.10" y1="314.50" x2="403.70" y2="314.50" stroke="#000" stroke-width="1.1" />
<line x1="397.10" y1="325.00" x2="403.70" y2="325.00" stroke="#000" stroke-width="1.1" />
<circle cx="400.40" cy="314.00" r="2.6" fill="#fff" stroke="#000" stroke-width="1.25"/>
<circle cx="395.20" cy="318.00" r="2.6" fill="#fff" stroke="#000" stroke-width="1.25"/>
<circle cx="405.30" cy="318.00" r="2.6" fill="#fff" stroke="#000" stroke-width="1.25"/>
<circle cx="395.20" cy="324.80" r="2.6" fill="#fff" stroke="#000" stroke-width="1.25"/>
<circle cx="405.30" cy="324.80" r="2.6" fill="#fff" stroke="#000" stroke-width="1.25"/>
<circle cx="400.40" cy="321.50" r="2.6" fill="#fff" stroke="#000" stroke-width="1.25"/>
<line x1="424.65" y1="302.00" x2="424.65" y2="313.00" stroke="#000" stroke-width="1.1" />
<line x1="421.35" y1="302.00" x2="427.95" y2="302.00" stroke="#000" stroke-width="1.1" />
<line x1="421.35" y1="313.00" x2="427.95" y2="313.00" stroke="#000" stroke-width="1.1" />
<circle cx="419.40" cy="300.60" r="2.6" fill="#fff" stroke="#000" stroke-width="1.25"/>
<circle cx="424.40" cy="304.00" r="2.6" fill="#fff" stroke="#000" stroke-width="1.25"/>
<circle cx="429.60" cy="304.00" r="2.6" fill="#fff" stroke="#000" stroke-width="1.25"/>
<circle cx="419.40" cy="314.60" r="2.6" fill="#fff" stroke="#000" stroke-width="1.25"/>
<circle cx="424.40" cy="311.00" r="2.6" fill="#fff" stroke="#000" stroke-width="1.25"/>
<circle cx="429.60" cy="311.00" r="2.6" fill="#fff" stroke="#000" stroke-width="1.25"/>
<line x1="448.50" y1="296.00" x2="448.50" y2="312.00" stroke="#000" stroke-width="1.1" />
<line x1="445.20" y1="296.00" x2="451.80" y2="296.00" stroke="#000" stroke-width="1.1" />
<line x1="445.20" y1="312.00" x2="451.80" y2="312.00" stroke="#000" stroke-width="1.1" />
<circle cx="443.50" cy="296.80" r="3.2" fill="#000" stroke="none" stroke-width="0"/>
<circle cx="453.00" cy="293.60" r="3.2" fill="#000" stroke="none" stroke-width="0"/>
<circle cx="453.00" cy="300.80" r="3.2" fill="#000" stroke="none" stroke-width="0"/>
<circle cx="443.50" cy="307.20" r="3.2" fill="#000" stroke="none" stroke-width="0"/>
<circle cx="453.00" cy="310.90" r="3.2" fill="#000" stroke="none" stroke-width="0"/>
<circle cx="443.50" cy="314.10" r="3.2" fill="#000" stroke="none" stroke-width="0"/>
<line x1="472.60" y1="277.60" x2="472.60" y2="299.00" stroke="#000" stroke-width="1.1" />
<line x1="469.30" y1="277.60" x2="475.90" y2="277.60" stroke="#000" stroke-width="1.1" />
<line x1="469.30" y1="299.00" x2="475.90" y2="299.00" stroke="#000" stroke-width="1.1" />
<circle cx="472.50" cy="272.90" r="3.2" fill="#000" stroke="none" stroke-width="0"/>
<circle cx="468.00" cy="286.40" r="3.2" fill="#000" stroke="none" stroke-width="0"/>
<circle cx="472.20" cy="283.20" r="3.2" fill="#000" stroke="none" stroke-width="0"/>
<circle cx="477.00" cy="286.40" r="3.2" fill="#000" stroke="none" stroke-width="0"/>
<circle cx="470.10" cy="300.80" r="3.2" fill="#000" stroke="none" stroke-width="0"/>
<circle cx="474.40" cy="300.80" r="3.2" fill="#000" stroke="none" stroke-width="0"/>
<polyline points="400.60,308.60 400.60,260.70 424.30,260.70 424.30,294.90" fill="none" stroke="#000" stroke-width="1.1"/>
<path d="M406.10,251.40L406.10,256.40M403.93,252.65L408.27,255.15M408.27,252.65L403.93,255.15" stroke="#000" stroke-width="1.25" fill="none"/>
<path d="M412.70,251.40L412.70,256.40M410.53,252.65L414.87,255.15M414.87,252.65L410.53,255.15" stroke="#000" stroke-width="1.25" fill="none"/>
<path d="M419.30,251.40L419.30,256.40M417.13,252.65L421.47,255.15M421.47,252.65L417.13,255.15" stroke="#000" stroke-width="1.25" fill="none"/>
<polyline points="444.90,284.30 444.90,260.70 472.00,260.70 472.00,265.50" fill="none" stroke="#000" stroke-width="1.1"/>
<path d="M452.10,251.40L452.10,256.40M449.93,252.65L454.27,255.15M454.27,252.65L449.93,255.15" stroke="#000" stroke-width="1.25" fill="none"/>
<path d="M458.70,251.40L458.70,256.40M456.53,252.65L460.87,255.15M460.87,252.65L456.53,255.15" stroke="#000" stroke-width="1.25" fill="none"/>
<path d="M465.30,251.40L465.30,256.40M463.13,252.65L467.47,255.15M467.47,252.65L463.13,255.15" stroke="#000" stroke-width="1.25" fill="none"/>
<text x="400.70" y="366.60" font-size="11.0" fill="#000" text-anchor="middle" >-</text>
<text x="425.90" y="366.60" font-size="11.0" fill="#000" text-anchor="middle" >+</text>
<text x="449.20" y="366.60" font-size="11.0" fill="#000" text-anchor="middle" >-</text>
<text x="472.80" y="366.60" font-size="11.0" fill="#000" text-anchor="middle" >+</text>
<text transform="translate(360.00,305.00) rotate(-90)" x="0" y="0" font-size="8.6" fill="#000" text-anchor="middle" >Beats per minute (BPM)</text>
<line x1="521.30" y1="356.00" x2="525.30" y2="356.00" stroke="#000" stroke-width="1.1" />
<text x="519.90" y="358.60" font-size="7.5" fill="#000" text-anchor="end" >0</text>
<line x1="521.30" y1="321.34" x2="525.30" y2="321.34" stroke="#000" stroke-width="1.1" />
<text x="519.90" y="323.94" font-size="7.5" fill="#000" text-anchor="end" >20</text>
<line x1="521.30" y1="286.68" x2="525.30" y2="286.68" stroke="#000" stroke-width="1.1" />
<text x="519.90" y="289.28" font-size="7.5" fill="#000" text-anchor="end" >40</text>
<line x1="521.30" y1="252.02" x2="525.30" y2="252.02" stroke="#000" stroke-width="1.1" />
<text x="519.90" y="254.62" font-size="7.5" fill="#000" text-anchor="end" >60</text>
<line x1="525.30" y1="251.50" x2="525.30" y2="356.60" stroke="#000" stroke-width="1.3" />
<line x1="524.70" y1="356.00" x2="630.40" y2="356.00" stroke="#000" stroke-width="1.3" />
<rect x="534.70" y="298.50" width="14.30" height="57.50" fill="#00ff00" stroke="#000" stroke-width="1.45" />
<rect x="558.70" y="275.40" width="14.00" height="80.60" fill="url(#hg)" stroke="#000" stroke-width="1.45" />
<rect x="582.80" y="304.10" width="14.20" height="51.90" fill="#a3a3a8" stroke="#000" stroke-width="1.45" />
<rect x="606.80" y="291.50" width="13.80" height="64.50" fill="url(#hk)" stroke="#000" stroke-width="1.45" />
<line x1="541.85" y1="287.40" x2="541.85" y2="307.60" stroke="#000" stroke-width="1.1" />
<line x1="538.55" y1="287.40" x2="545.15" y2="287.40" stroke="#000" stroke-width="1.1" />
<line x1="538.55" y1="307.60" x2="545.15" y2="307.60" stroke="#000" stroke-width="1.1" />
<circle cx="541.20" cy="282.00" r="2.6" fill="#fff" stroke="#000" stroke-width="1.25"/>
<circle cx="536.60" cy="295.70" r="2.6" fill="#fff" stroke="#000" stroke-width="1.25"/>
<circle cx="546.50" cy="293.50" r="2.6" fill="#fff" stroke="#000" stroke-width="1.25"/>
<circle cx="541.60" cy="301.30" r="2.6" fill="#fff" stroke="#000" stroke-width="1.25"/>
<circle cx="546.50" cy="300.10" r="2.6" fill="#fff" stroke="#000" stroke-width="1.25"/>
<circle cx="541.20" cy="313.40" r="2.6" fill="#fff" stroke="#000" stroke-width="1.25"/>
<line x1="565.70" y1="268.00" x2="565.70" y2="283.00" stroke="#000" stroke-width="1.1" />
<line x1="562.40" y1="268.00" x2="569.00" y2="268.00" stroke="#000" stroke-width="1.1" />
<line x1="562.40" y1="283.00" x2="569.00" y2="283.00" stroke="#000" stroke-width="1.1" />
<circle cx="565.50" cy="265.40" r="2.6" fill="#fff" stroke="#000" stroke-width="1.25"/>
<circle cx="570.50" cy="264.60" r="2.6" fill="#fff" stroke="#000" stroke-width="1.25"/>
<circle cx="565.50" cy="272.90" r="2.6" fill="#fff" stroke="#000" stroke-width="1.25"/>
<circle cx="560.60" cy="283.60" r="2.6" fill="#fff" stroke="#000" stroke-width="1.25"/>
<circle cx="565.50" cy="279.50" r="2.6" fill="#fff" stroke="#000" stroke-width="1.25"/>
<circle cx="570.50" cy="280.30" r="2.6" fill="#fff" stroke="#000" stroke-width="1.25"/>
<line x1="589.90" y1="297.00" x2="589.90" y2="309.00" stroke="#000" stroke-width="1.1" />
<line x1="586.60" y1="297.00" x2="593.20" y2="297.00" stroke="#000" stroke-width="1.1" />
<line x1="586.60" y1="309.00" x2="593.20" y2="309.00" stroke="#000" stroke-width="1.1" />
<circle cx="585.10" cy="298.60" r="3.2" fill="#000" stroke="none" stroke-width="0"/>
<circle cx="594.80" cy="298.60" r="3.2" fill="#000" stroke="none" stroke-width="0"/>
<circle cx="592.20" cy="307.30" r="3.2" fill="#000" stroke="none" stroke-width="0"/>
<circle cx="587.70" cy="310.80" r="3.2" fill="#000" stroke="none" stroke-width="0"/>
<line x1="613.70" y1="281.50" x2="613.70" y2="300.00" stroke="#000" stroke-width="1.1" />
<line x1="610.40" y1="281.50" x2="617.00" y2="281.50" stroke="#000" stroke-width="1.1" />
<line x1="610.40" y1="300.00" x2="617.00" y2="300.00" stroke="#000" stroke-width="1.1" />
<circle cx="613.50" cy="270.30" r="3.2" fill="#000" stroke="none" stroke-width="0"/>
<circle cx="608.60" cy="291.80" r="3.2" fill="#000" stroke="none" stroke-width="0"/>
<circle cx="618.50" cy="291.80" r="3.2" fill="#000" stroke="none" stroke-width="0"/>
<circle cx="608.60" cy="297.50" r="3.2" fill="#000" stroke="none" stroke-width="0"/>
<circle cx="618.50" cy="297.50" r="3.2" fill="#000" stroke="none" stroke-width="0"/>
<circle cx="613.50" cy="298.00" r="3.2" fill="#000" stroke="none" stroke-width="0"/>
<polyline points="541.60,275.40 541.60,252.60 565.80,252.60 565.80,258.30" fill="none" stroke="#000" stroke-width="1.1"/>
<path d="M547.20,243.50L547.20,248.50M545.03,244.75L549.37,247.25M549.37,244.75L545.03,247.25" stroke="#000" stroke-width="1.25" fill="none"/>
<path d="M553.80,243.50L553.80,248.50M551.63,244.75L555.97,247.25M555.97,244.75L551.63,247.25" stroke="#000" stroke-width="1.25" fill="none"/>
<path d="M560.40,243.50L560.40,248.50M558.23,244.75L562.57,247.25M562.57,244.75L558.23,247.25" stroke="#000" stroke-width="1.25" fill="none"/>
<polyline points="592.60,279.60 592.60,255.30 612.30,255.30 612.30,262.80" fill="none" stroke="#000" stroke-width="1.1"/>
<path d="M599.10,246.10L599.10,251.10M596.93,247.35L601.27,249.85M601.27,247.35L596.93,249.85" stroke="#000" stroke-width="1.25" fill="none"/>
<path d="M605.70,246.10L605.70,251.10M603.53,247.35L607.87,249.85M607.87,247.35L603.53,249.85" stroke="#000" stroke-width="1.25" fill="none"/>
<text x="541.70" y="366.60" font-size="11.0" fill="#000" text-anchor="middle" >-</text>
<text x="567.00" y="366.60" font-size="11.0" fill="#000" text-anchor="middle" >+</text>
<text x="589.90" y="366.60" font-size="11.0" fill="#000" text-anchor="middle" >-</text>
<text x="612.80" y="366.60" font-size="11.0" fill="#000" text-anchor="middle" >+</text>
<text x="624.60" y="365.50" font-size="8.55" fill="#000" text-anchor="start" >ISO (200nM)</text>
<text transform="translate(506.20,304.50) rotate(-90)" x="0" y="0" font-size="8.0" fill="#000" text-anchor="middle" >cm/s</text>
<circle cx="635.60" cy="258.70" r="2.75" fill="#fff" stroke="#000" stroke-width="1.3"/>
<text x="648.30" y="261.80" font-size="8.55" fill="#000" text-anchor="start" >TTN-GFP</text>
<circle cx="635.60" cy="272.90" r="3.3" fill="#000" stroke="none" stroke-width="0"/>
<text x="648.30" y="276.00" font-size="8.55" fill="#000" text-anchor="start" >19.9.11</text>
</svg>
</body></html>
